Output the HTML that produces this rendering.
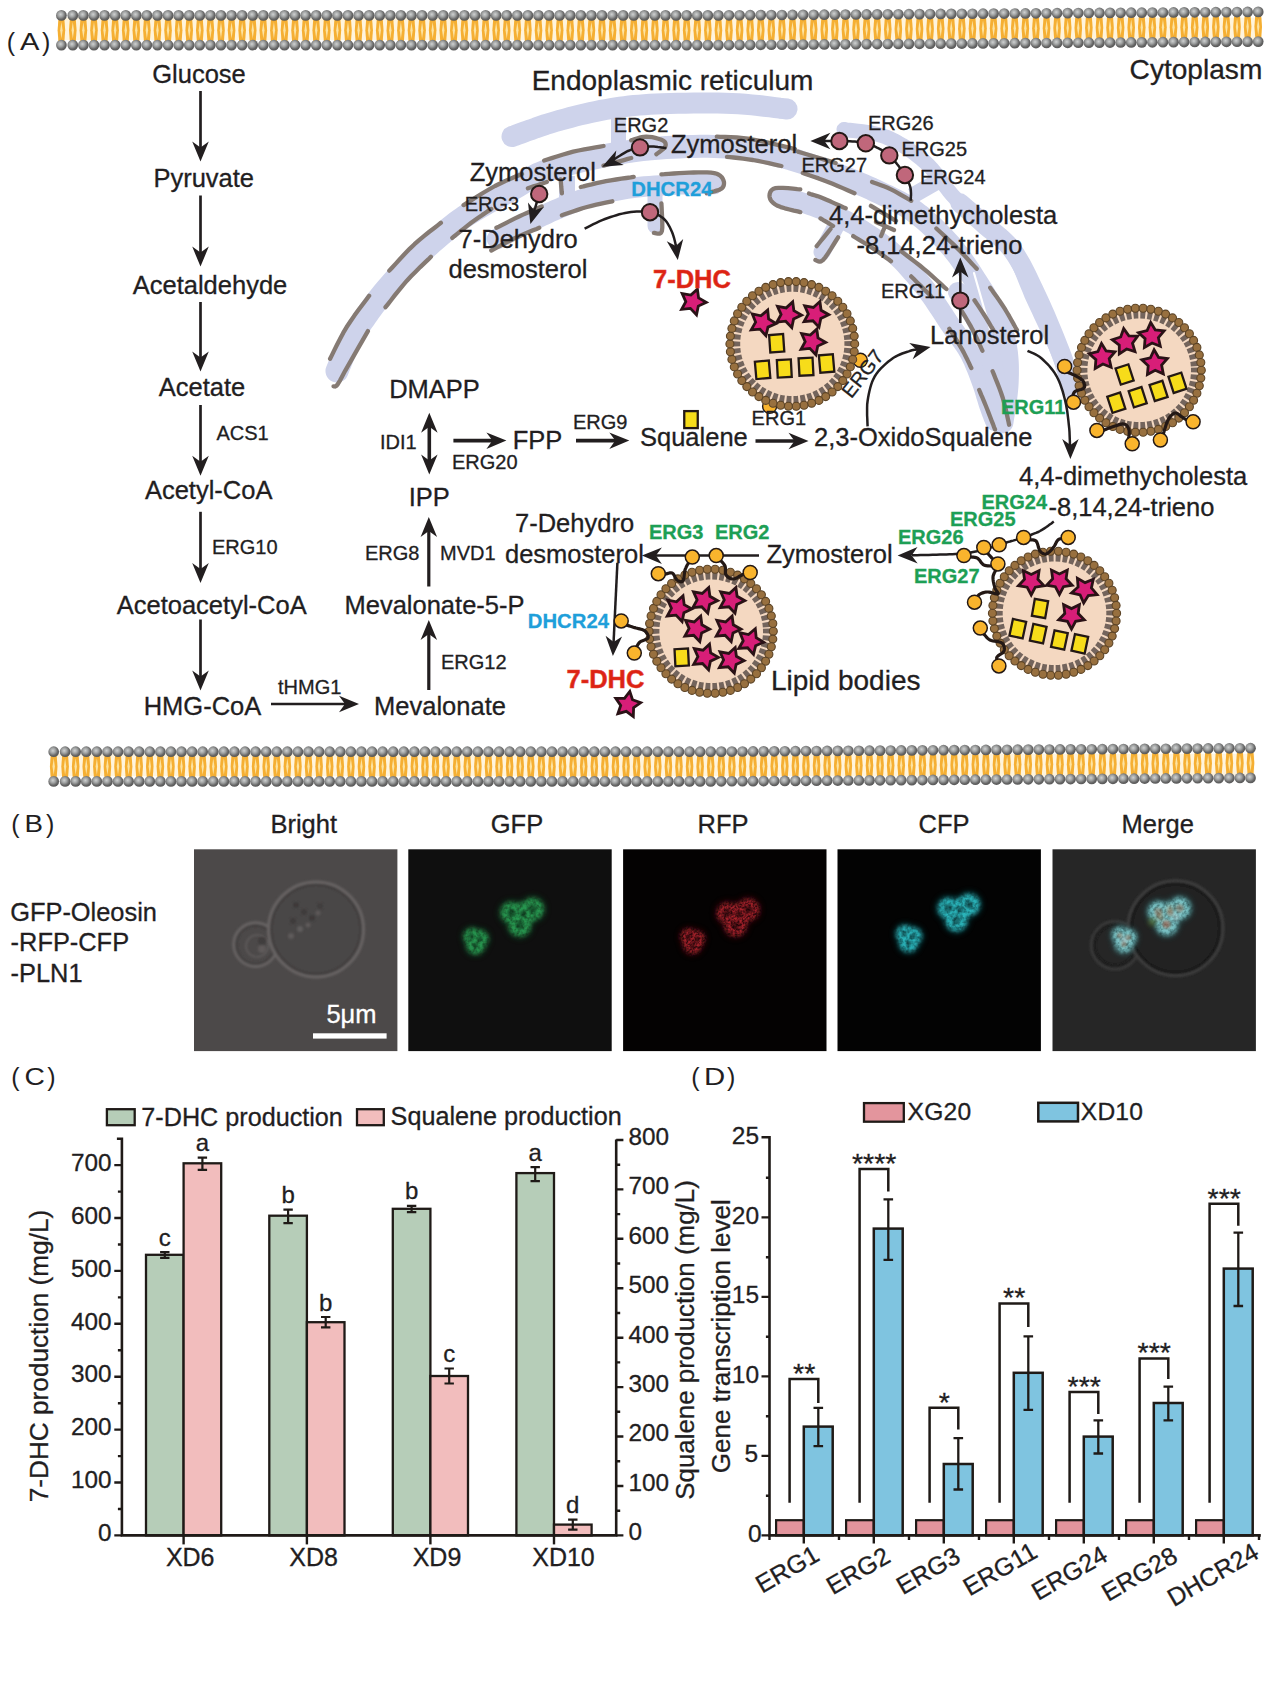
<!DOCTYPE html>
<html lang="en"><head><meta charset="utf-8"><title>Figure</title>
<style>
html,body{margin:0;padding:0;background:#fff;}
svg{display:block;}
text{font-family:"Liberation Sans",sans-serif;}
</style></head><body>
<svg width="1270" height="1686" viewBox="0 0 1270 1686">
<defs>
<radialGradient id="gb" cx="0.42" cy="0.4" r="0.62"><stop offset="0" stop-color="#cfd1d1"/><stop offset="0.4" stop-color="#a0a2a2"/><stop offset="0.75" stop-color="#676767"/><stop offset="1" stop-color="#555"/></radialGradient>
<filter id="bl1" x="-50%" y="-50%" width="200%" height="200%"><feGaussianBlur stdDeviation="1.2"/></filter>
<filter id="bl2" x="-50%" y="-50%" width="200%" height="200%"><feGaussianBlur stdDeviation="2.0"/></filter>
<filter id="bl3" x="-50%" y="-50%" width="200%" height="200%"><feGaussianBlur stdDeviation="3.2"/></filter>
<filter id="spk" x="-30%" y="-30%" width="160%" height="160%"><feGaussianBlur stdDeviation="2" result="b"/><feTurbulence type="fractalNoise" baseFrequency="0.45" numOctaves="2" seed="4" result="n"/><feColorMatrix in="n" type="matrix" values="0 0 0 0 1 0 0 0 0 1 0 0 0 0 1 2.4 0 0 0 -0.6" result="na"/><feComposite in="b" in2="na" operator="in"/></filter>
<filter id="spk2" x="-30%" y="-30%" width="160%" height="160%"><feGaussianBlur stdDeviation="2.2" result="b"/><feTurbulence type="fractalNoise" baseFrequency="0.3" numOctaves="2" seed="9" result="n"/><feColorMatrix in="n" type="matrix" values="0 0 0 0 1 0 0 0 0 1 0 0 0 0 1 1.5 0 0 0 0.05" result="na"/><feComposite in="b" in2="na" operator="in"/></filter>
</defs>
<rect width="1270" height="1686" fill="#fff"/>
<rect x="58" y="17.6" width="1204" height="22.4" fill="#fff4dc"/>
<rect x="50.3" y="753.8" width="1204" height="22.4" fill="#fff4dc"/>
<g id="mem"><path d="M58.40,19.55L64.40,19.55L65.20,30.25L64.40,40.95L58.40,40.95L57.60,30.25Z" fill="#f5af33"/><path d="M61.40,22.05L62.60,30.25L61.40,38.45L60.20,30.25Z" fill="#fde3a1"/><path d="M69.80,19.55L75.80,19.55L76.60,30.25L75.80,40.95L69.80,40.95L69.00,30.25Z" fill="#f5af33"/><path d="M72.80,22.05L74.00,30.25L72.80,38.45L71.60,30.25Z" fill="#fde3a1"/><path d="M80.38,19.55L86.38,19.55L87.18,30.25L86.38,40.95L80.38,40.95L79.58,30.25Z" fill="#f5af33"/><path d="M83.38,22.05L84.58,30.25L83.38,38.45L82.18,30.25Z" fill="#fde3a1"/><path d="M90.97,19.55L96.97,19.55L97.77,30.25L96.97,40.95L90.97,40.95L90.17,30.25Z" fill="#f5af33"/><path d="M93.97,22.05L95.17,30.25L93.97,38.45L92.77,30.25Z" fill="#fde3a1"/><path d="M101.55,19.55L107.55,19.55L108.35,30.25L107.55,40.95L101.55,40.95L100.75,30.25Z" fill="#f5af33"/><path d="M104.55,22.05L105.75,30.25L104.55,38.45L103.35,30.25Z" fill="#fde3a1"/><path d="M112.14,19.55L118.14,19.55L118.94,30.25L118.14,40.95L112.14,40.95L111.34,30.25Z" fill="#f5af33"/><path d="M115.14,22.05L116.34,30.25L115.14,38.45L113.94,30.25Z" fill="#fde3a1"/><path d="M122.72,19.55L128.72,19.55L129.52,30.25L128.72,40.95L122.72,40.95L121.92,30.25Z" fill="#f5af33"/><path d="M125.72,22.05L126.92,30.25L125.72,38.45L124.52,30.25Z" fill="#fde3a1"/><path d="M133.30,19.55L139.30,19.55L140.10,30.25L139.30,40.95L133.30,40.95L132.50,30.25Z" fill="#f5af33"/><path d="M136.30,22.05L137.50,30.25L136.30,38.45L135.10,30.25Z" fill="#fde3a1"/><path d="M143.89,19.55L149.89,19.55L150.69,30.25L149.89,40.95L143.89,40.95L143.09,30.25Z" fill="#f5af33"/><path d="M146.89,22.05L148.09,30.25L146.89,38.45L145.69,30.25Z" fill="#fde3a1"/><path d="M154.47,19.55L160.47,19.55L161.27,30.25L160.47,40.95L154.47,40.95L153.67,30.25Z" fill="#f5af33"/><path d="M157.47,22.05L158.67,30.25L157.47,38.45L156.27,30.25Z" fill="#fde3a1"/><path d="M165.06,19.55L171.06,19.55L171.86,30.25L171.06,40.95L165.06,40.95L164.26,30.25Z" fill="#f5af33"/><path d="M168.06,22.05L169.26,30.25L168.06,38.45L166.86,30.25Z" fill="#fde3a1"/><path d="M175.64,19.55L181.64,19.55L182.44,30.25L181.64,40.95L175.64,40.95L174.84,30.25Z" fill="#f5af33"/><path d="M178.64,22.05L179.84,30.25L178.64,38.45L177.44,30.25Z" fill="#fde3a1"/><path d="M186.22,19.55L192.22,19.55L193.02,30.25L192.22,40.95L186.22,40.95L185.42,30.25Z" fill="#f5af33"/><path d="M189.22,22.05L190.42,30.25L189.22,38.45L188.02,30.25Z" fill="#fde3a1"/><path d="M196.81,19.55L202.81,19.55L203.61,30.25L202.81,40.95L196.81,40.95L196.01,30.25Z" fill="#f5af33"/><path d="M199.81,22.05L201.01,30.25L199.81,38.45L198.61,30.25Z" fill="#fde3a1"/><path d="M207.39,19.55L213.39,19.55L214.19,30.25L213.39,40.95L207.39,40.95L206.59,30.25Z" fill="#f5af33"/><path d="M210.39,22.05L211.59,30.25L210.39,38.45L209.19,30.25Z" fill="#fde3a1"/><path d="M217.98,19.55L223.98,19.55L224.78,30.25L223.98,40.95L217.98,40.95L217.18,30.25Z" fill="#f5af33"/><path d="M220.98,22.05L222.18,30.25L220.98,38.45L219.78,30.25Z" fill="#fde3a1"/><path d="M228.56,19.55L234.56,19.55L235.36,30.25L234.56,40.95L228.56,40.95L227.76,30.25Z" fill="#f5af33"/><path d="M231.56,22.05L232.76,30.25L231.56,38.45L230.36,30.25Z" fill="#fde3a1"/><path d="M239.14,19.55L245.14,19.55L245.94,30.25L245.14,40.95L239.14,40.95L238.34,30.25Z" fill="#f5af33"/><path d="M242.14,22.05L243.34,30.25L242.14,38.45L240.94,30.25Z" fill="#fde3a1"/><path d="M249.73,19.55L255.73,19.55L256.53,30.25L255.73,40.95L249.73,40.95L248.93,30.25Z" fill="#f5af33"/><path d="M252.73,22.05L253.93,30.25L252.73,38.45L251.53,30.25Z" fill="#fde3a1"/><path d="M260.31,19.55L266.31,19.55L267.11,30.25L266.31,40.95L260.31,40.95L259.51,30.25Z" fill="#f5af33"/><path d="M263.31,22.05L264.51,30.25L263.31,38.45L262.11,30.25Z" fill="#fde3a1"/><path d="M270.90,19.55L276.90,19.55L277.70,30.25L276.90,40.95L270.90,40.95L270.10,30.25Z" fill="#f5af33"/><path d="M273.90,22.05L275.10,30.25L273.90,38.45L272.70,30.25Z" fill="#fde3a1"/><path d="M281.48,19.55L287.48,19.55L288.28,30.25L287.48,40.95L281.48,40.95L280.68,30.25Z" fill="#f5af33"/><path d="M284.48,22.05L285.68,30.25L284.48,38.45L283.28,30.25Z" fill="#fde3a1"/><path d="M292.06,19.55L298.06,19.55L298.86,30.25L298.06,40.95L292.06,40.95L291.26,30.25Z" fill="#f5af33"/><path d="M295.06,22.05L296.26,30.25L295.06,38.45L293.86,30.25Z" fill="#fde3a1"/><path d="M302.65,19.55L308.65,19.55L309.45,30.25L308.65,40.95L302.65,40.95L301.85,30.25Z" fill="#f5af33"/><path d="M305.65,22.05L306.85,30.25L305.65,38.45L304.45,30.25Z" fill="#fde3a1"/><path d="M313.23,19.55L319.23,19.55L320.03,30.25L319.23,40.95L313.23,40.95L312.43,30.25Z" fill="#f5af33"/><path d="M316.23,22.05L317.43,30.25L316.23,38.45L315.03,30.25Z" fill="#fde3a1"/><path d="M323.82,19.55L329.82,19.55L330.62,30.25L329.82,40.95L323.82,40.95L323.02,30.25Z" fill="#f5af33"/><path d="M326.82,22.05L328.02,30.25L326.82,38.45L325.62,30.25Z" fill="#fde3a1"/><path d="M334.40,19.55L340.40,19.55L341.20,30.25L340.40,40.95L334.40,40.95L333.60,30.25Z" fill="#f5af33"/><path d="M337.40,22.05L338.60,30.25L337.40,38.45L336.20,30.25Z" fill="#fde3a1"/><path d="M344.98,19.55L350.98,19.55L351.78,30.25L350.98,40.95L344.98,40.95L344.18,30.25Z" fill="#f5af33"/><path d="M347.98,22.05L349.18,30.25L347.98,38.45L346.78,30.25Z" fill="#fde3a1"/><path d="M355.57,19.55L361.57,19.55L362.37,30.25L361.57,40.95L355.57,40.95L354.77,30.25Z" fill="#f5af33"/><path d="M358.57,22.05L359.77,30.25L358.57,38.45L357.37,30.25Z" fill="#fde3a1"/><path d="M366.15,19.55L372.15,19.55L372.95,30.25L372.15,40.95L366.15,40.95L365.35,30.25Z" fill="#f5af33"/><path d="M369.15,22.05L370.35,30.25L369.15,38.45L367.95,30.25Z" fill="#fde3a1"/><path d="M376.74,19.55L382.74,19.55L383.54,30.25L382.74,40.95L376.74,40.95L375.94,30.25Z" fill="#f5af33"/><path d="M379.74,22.05L380.94,30.25L379.74,38.45L378.54,30.25Z" fill="#fde3a1"/><path d="M387.32,19.55L393.32,19.55L394.12,30.25L393.32,40.95L387.32,40.95L386.52,30.25Z" fill="#f5af33"/><path d="M390.32,22.05L391.52,30.25L390.32,38.45L389.12,30.25Z" fill="#fde3a1"/><path d="M397.90,19.55L403.90,19.55L404.70,30.25L403.90,40.95L397.90,40.95L397.10,30.25Z" fill="#f5af33"/><path d="M400.90,22.05L402.10,30.25L400.90,38.45L399.70,30.25Z" fill="#fde3a1"/><path d="M408.49,19.55L414.49,19.55L415.29,30.25L414.49,40.95L408.49,40.95L407.69,30.25Z" fill="#f5af33"/><path d="M411.49,22.05L412.69,30.25L411.49,38.45L410.29,30.25Z" fill="#fde3a1"/><path d="M419.07,19.55L425.07,19.55L425.87,30.25L425.07,40.95L419.07,40.95L418.27,30.25Z" fill="#f5af33"/><path d="M422.07,22.05L423.27,30.25L422.07,38.45L420.87,30.25Z" fill="#fde3a1"/><path d="M429.66,19.55L435.66,19.55L436.46,30.25L435.66,40.95L429.66,40.95L428.86,30.25Z" fill="#f5af33"/><path d="M432.66,22.05L433.86,30.25L432.66,38.45L431.46,30.25Z" fill="#fde3a1"/><path d="M440.24,19.55L446.24,19.55L447.04,30.25L446.24,40.95L440.24,40.95L439.44,30.25Z" fill="#f5af33"/><path d="M443.24,22.05L444.44,30.25L443.24,38.45L442.04,30.25Z" fill="#fde3a1"/><path d="M450.82,19.55L456.82,19.55L457.62,30.25L456.82,40.95L450.82,40.95L450.02,30.25Z" fill="#f5af33"/><path d="M453.82,22.05L455.02,30.25L453.82,38.45L452.62,30.25Z" fill="#fde3a1"/><path d="M461.41,19.55L467.41,19.55L468.21,30.25L467.41,40.95L461.41,40.95L460.61,30.25Z" fill="#f5af33"/><path d="M464.41,22.05L465.61,30.25L464.41,38.45L463.21,30.25Z" fill="#fde3a1"/><path d="M471.99,19.55L477.99,19.55L478.79,30.25L477.99,40.95L471.99,40.95L471.19,30.25Z" fill="#f5af33"/><path d="M474.99,22.05L476.19,30.25L474.99,38.45L473.79,30.25Z" fill="#fde3a1"/><path d="M482.58,19.55L488.58,19.55L489.38,30.25L488.58,40.95L482.58,40.95L481.78,30.25Z" fill="#f5af33"/><path d="M485.58,22.05L486.78,30.25L485.58,38.45L484.38,30.25Z" fill="#fde3a1"/><path d="M493.16,19.55L499.16,19.55L499.96,30.25L499.16,40.95L493.16,40.95L492.36,30.25Z" fill="#f5af33"/><path d="M496.16,22.05L497.36,30.25L496.16,38.45L494.96,30.25Z" fill="#fde3a1"/><path d="M503.74,19.55L509.74,19.55L510.54,30.25L509.74,40.95L503.74,40.95L502.94,30.25Z" fill="#f5af33"/><path d="M506.74,22.05L507.94,30.25L506.74,38.45L505.54,30.25Z" fill="#fde3a1"/><path d="M514.33,19.55L520.33,19.55L521.13,30.25L520.33,40.95L514.33,40.95L513.53,30.25Z" fill="#f5af33"/><path d="M517.33,22.05L518.53,30.25L517.33,38.45L516.13,30.25Z" fill="#fde3a1"/><path d="M524.91,19.55L530.91,19.55L531.71,30.25L530.91,40.95L524.91,40.95L524.11,30.25Z" fill="#f5af33"/><path d="M527.91,22.05L529.11,30.25L527.91,38.45L526.71,30.25Z" fill="#fde3a1"/><path d="M535.50,19.55L541.50,19.55L542.30,30.25L541.50,40.95L535.50,40.95L534.70,30.25Z" fill="#f5af33"/><path d="M538.50,22.05L539.70,30.25L538.50,38.45L537.30,30.25Z" fill="#fde3a1"/><path d="M546.08,19.55L552.08,19.55L552.88,30.25L552.08,40.95L546.08,40.95L545.28,30.25Z" fill="#f5af33"/><path d="M549.08,22.05L550.28,30.25L549.08,38.45L547.88,30.25Z" fill="#fde3a1"/><path d="M556.66,19.55L562.66,19.55L563.46,30.25L562.66,40.95L556.66,40.95L555.86,30.25Z" fill="#f5af33"/><path d="M559.66,22.05L560.86,30.25L559.66,38.45L558.46,30.25Z" fill="#fde3a1"/><path d="M567.25,19.55L573.25,19.55L574.05,30.25L573.25,40.95L567.25,40.95L566.45,30.25Z" fill="#f5af33"/><path d="M570.25,22.05L571.45,30.25L570.25,38.45L569.05,30.25Z" fill="#fde3a1"/><path d="M577.83,19.55L583.83,19.55L584.63,30.25L583.83,40.95L577.83,40.95L577.03,30.25Z" fill="#f5af33"/><path d="M580.83,22.05L582.03,30.25L580.83,38.45L579.63,30.25Z" fill="#fde3a1"/><path d="M588.42,19.55L594.42,19.55L595.22,30.25L594.42,40.95L588.42,40.95L587.62,30.25Z" fill="#f5af33"/><path d="M591.42,22.05L592.62,30.25L591.42,38.45L590.22,30.25Z" fill="#fde3a1"/><path d="M599.00,19.55L605.00,19.55L605.80,30.25L605.00,40.95L599.00,40.95L598.20,30.25Z" fill="#f5af33"/><path d="M602.00,22.05L603.20,30.25L602.00,38.45L600.80,30.25Z" fill="#fde3a1"/><path d="M609.58,19.55L615.58,19.55L616.38,30.25L615.58,40.95L609.58,40.95L608.78,30.25Z" fill="#f5af33"/><path d="M612.58,22.05L613.78,30.25L612.58,38.45L611.38,30.25Z" fill="#fde3a1"/><path d="M620.17,19.55L626.17,19.55L626.97,30.25L626.17,40.95L620.17,40.95L619.37,30.25Z" fill="#f5af33"/><path d="M623.17,22.05L624.37,30.25L623.17,38.45L621.97,30.25Z" fill="#fde3a1"/><path d="M630.75,19.55L636.75,19.55L637.55,30.25L636.75,40.95L630.75,40.95L629.95,30.25Z" fill="#f5af33"/><path d="M633.75,22.05L634.95,30.25L633.75,38.45L632.55,30.25Z" fill="#fde3a1"/><path d="M641.34,19.55L647.34,19.55L648.14,30.25L647.34,40.95L641.34,40.95L640.54,30.25Z" fill="#f5af33"/><path d="M644.34,22.05L645.54,30.25L644.34,38.45L643.14,30.25Z" fill="#fde3a1"/><path d="M651.92,19.55L657.92,19.55L658.72,30.25L657.92,40.95L651.92,40.95L651.12,30.25Z" fill="#f5af33"/><path d="M654.92,22.05L656.12,30.25L654.92,38.45L653.72,30.25Z" fill="#fde3a1"/><path d="M662.50,19.55L668.50,19.55L669.30,30.25L668.50,40.95L662.50,40.95L661.70,30.25Z" fill="#f5af33"/><path d="M665.50,22.05L666.70,30.25L665.50,38.45L664.30,30.25Z" fill="#fde3a1"/><path d="M673.09,19.55L679.09,19.55L679.89,30.25L679.09,40.95L673.09,40.95L672.29,30.25Z" fill="#f5af33"/><path d="M676.09,22.05L677.29,30.25L676.09,38.45L674.89,30.25Z" fill="#fde3a1"/><path d="M683.67,19.55L689.67,19.55L690.47,30.25L689.67,40.95L683.67,40.95L682.87,30.25Z" fill="#f5af33"/><path d="M686.67,22.05L687.87,30.25L686.67,38.45L685.47,30.25Z" fill="#fde3a1"/><path d="M694.26,19.55L700.26,19.55L701.06,30.25L700.26,40.95L694.26,40.95L693.46,30.25Z" fill="#f5af33"/><path d="M697.26,22.05L698.46,30.25L697.26,38.45L696.06,30.25Z" fill="#fde3a1"/><path d="M704.84,19.55L710.84,19.55L711.64,30.25L710.84,40.95L704.84,40.95L704.04,30.25Z" fill="#f5af33"/><path d="M707.84,22.05L709.04,30.25L707.84,38.45L706.64,30.25Z" fill="#fde3a1"/><path d="M715.42,19.55L721.42,19.55L722.22,30.25L721.42,40.95L715.42,40.95L714.62,30.25Z" fill="#f5af33"/><path d="M718.42,22.05L719.62,30.25L718.42,38.45L717.22,30.25Z" fill="#fde3a1"/><path d="M726.01,19.49L732.01,19.49L732.81,30.19L732.01,40.89L726.01,40.89L725.21,30.19Z" fill="#f5af33"/><path d="M729.01,21.99L730.21,30.19L729.01,38.39L727.81,30.19Z" fill="#fde3a1"/><path d="M736.59,19.42L742.59,19.42L743.39,30.12L742.59,40.82L736.59,40.82L735.79,30.12Z" fill="#f5af33"/><path d="M739.59,21.92L740.79,30.12L739.59,38.32L738.39,30.12Z" fill="#fde3a1"/><path d="M747.18,19.35L753.18,19.35L753.98,30.05L753.18,40.75L747.18,40.75L746.38,30.05Z" fill="#f5af33"/><path d="M750.18,21.85L751.38,30.05L750.18,38.25L748.98,30.05Z" fill="#fde3a1"/><path d="M757.76,19.28L763.76,19.28L764.56,29.98L763.76,40.68L757.76,40.68L756.96,29.98Z" fill="#f5af33"/><path d="M760.76,21.78L761.96,29.98L760.76,38.18L759.56,29.98Z" fill="#fde3a1"/><path d="M768.34,19.22L774.34,19.22L775.14,29.92L774.34,40.62L768.34,40.62L767.54,29.92Z" fill="#f5af33"/><path d="M771.34,21.72L772.54,29.92L771.34,38.12L770.14,29.92Z" fill="#fde3a1"/><path d="M778.93,19.15L784.93,19.15L785.73,29.85L784.93,40.55L778.93,40.55L778.13,29.85Z" fill="#f5af33"/><path d="M781.93,21.65L783.13,29.85L781.93,38.05L780.73,29.85Z" fill="#fde3a1"/><path d="M789.51,19.08L795.51,19.08L796.31,29.78L795.51,40.48L789.51,40.48L788.71,29.78Z" fill="#f5af33"/><path d="M792.51,21.58L793.71,29.78L792.51,37.98L791.31,29.78Z" fill="#fde3a1"/><path d="M800.10,19.01L806.10,19.01L806.90,29.71L806.10,40.41L800.10,40.41L799.30,29.71Z" fill="#f5af33"/><path d="M803.10,21.51L804.30,29.71L803.10,37.91L801.90,29.71Z" fill="#fde3a1"/><path d="M810.68,18.94L816.68,18.94L817.48,29.64L816.68,40.34L810.68,40.34L809.88,29.64Z" fill="#f5af33"/><path d="M813.68,21.44L814.88,29.64L813.68,37.84L812.48,29.64Z" fill="#fde3a1"/><path d="M821.26,18.87L827.26,18.87L828.06,29.57L827.26,40.27L821.26,40.27L820.46,29.57Z" fill="#f5af33"/><path d="M824.26,21.37L825.46,29.57L824.26,37.77L823.06,29.57Z" fill="#fde3a1"/><path d="M831.85,18.80L837.85,18.80L838.65,29.50L837.85,40.20L831.85,40.20L831.05,29.50Z" fill="#f5af33"/><path d="M834.85,21.30L836.05,29.50L834.85,37.70L833.65,29.50Z" fill="#fde3a1"/><path d="M842.43,18.73L848.43,18.73L849.23,29.43L848.43,40.13L842.43,40.13L841.63,29.43Z" fill="#f5af33"/><path d="M845.43,21.23L846.63,29.43L845.43,37.63L844.23,29.43Z" fill="#fde3a1"/><path d="M853.02,18.67L859.02,18.67L859.82,29.37L859.02,40.07L853.02,40.07L852.22,29.37Z" fill="#f5af33"/><path d="M856.02,21.17L857.22,29.37L856.02,37.57L854.82,29.37Z" fill="#fde3a1"/><path d="M863.60,18.60L869.60,18.60L870.40,29.30L869.60,40.00L863.60,40.00L862.80,29.30Z" fill="#f5af33"/><path d="M866.60,21.10L867.80,29.30L866.60,37.50L865.40,29.30Z" fill="#fde3a1"/><path d="M874.18,18.53L880.18,18.53L880.98,29.23L880.18,39.93L874.18,39.93L873.38,29.23Z" fill="#f5af33"/><path d="M877.18,21.03L878.38,29.23L877.18,37.43L875.98,29.23Z" fill="#fde3a1"/><path d="M884.77,18.46L890.77,18.46L891.57,29.16L890.77,39.86L884.77,39.86L883.97,29.16Z" fill="#f5af33"/><path d="M887.77,20.96L888.97,29.16L887.77,37.36L886.57,29.16Z" fill="#fde3a1"/><path d="M895.35,18.39L901.35,18.39L902.15,29.09L901.35,39.79L895.35,39.79L894.55,29.09Z" fill="#f5af33"/><path d="M898.35,20.89L899.55,29.09L898.35,37.29L897.15,29.09Z" fill="#fde3a1"/><path d="M905.94,18.32L911.94,18.32L912.74,29.02L911.94,39.72L905.94,39.72L905.14,29.02Z" fill="#f5af33"/><path d="M908.94,20.82L910.14,29.02L908.94,37.22L907.74,29.02Z" fill="#fde3a1"/><path d="M916.52,18.25L922.52,18.25L923.32,28.95L922.52,39.65L916.52,39.65L915.72,28.95Z" fill="#f5af33"/><path d="M919.52,20.75L920.72,28.95L919.52,37.15L918.32,28.95Z" fill="#fde3a1"/><path d="M927.10,18.18L933.10,18.18L933.90,28.88L933.10,39.58L927.10,39.58L926.30,28.88Z" fill="#f5af33"/><path d="M930.10,20.68L931.30,28.88L930.10,37.08L928.90,28.88Z" fill="#fde3a1"/><path d="M937.69,18.11L943.69,18.11L944.49,28.81L943.69,39.51L937.69,39.51L936.89,28.81Z" fill="#f5af33"/><path d="M940.69,20.61L941.89,28.81L940.69,37.01L939.49,28.81Z" fill="#fde3a1"/><path d="M948.27,18.05L954.27,18.05L955.07,28.75L954.27,39.45L948.27,39.45L947.47,28.75Z" fill="#f5af33"/><path d="M951.27,20.55L952.47,28.75L951.27,36.95L950.07,28.75Z" fill="#fde3a1"/><path d="M958.86,17.98L964.86,17.98L965.66,28.68L964.86,39.38L958.86,39.38L958.06,28.68Z" fill="#f5af33"/><path d="M961.86,20.48L963.06,28.68L961.86,36.88L960.66,28.68Z" fill="#fde3a1"/><path d="M969.44,17.91L975.44,17.91L976.24,28.61L975.44,39.31L969.44,39.31L968.64,28.61Z" fill="#f5af33"/><path d="M972.44,20.41L973.64,28.61L972.44,36.81L971.24,28.61Z" fill="#fde3a1"/><path d="M980.02,17.84L986.02,17.84L986.82,28.54L986.02,39.24L980.02,39.24L979.22,28.54Z" fill="#f5af33"/><path d="M983.02,20.34L984.22,28.54L983.02,36.74L981.82,28.54Z" fill="#fde3a1"/><path d="M990.61,17.77L996.61,17.77L997.41,28.47L996.61,39.17L990.61,39.17L989.81,28.47Z" fill="#f5af33"/><path d="M993.61,20.27L994.81,28.47L993.61,36.67L992.41,28.47Z" fill="#fde3a1"/><path d="M1001.19,17.70L1007.19,17.70L1007.99,28.40L1007.19,39.10L1001.19,39.10L1000.39,28.40Z" fill="#f5af33"/><path d="M1004.19,20.20L1005.39,28.40L1004.19,36.60L1002.99,28.40Z" fill="#fde3a1"/><path d="M1011.78,17.63L1017.78,17.63L1018.58,28.33L1017.78,39.03L1011.78,39.03L1010.98,28.33Z" fill="#f5af33"/><path d="M1014.78,20.13L1015.98,28.33L1014.78,36.53L1013.58,28.33Z" fill="#fde3a1"/><path d="M1022.36,17.56L1028.36,17.56L1029.16,28.26L1028.36,38.96L1022.36,38.96L1021.56,28.26Z" fill="#f5af33"/><path d="M1025.36,20.06L1026.56,28.26L1025.36,36.46L1024.16,28.26Z" fill="#fde3a1"/><path d="M1032.94,17.49L1038.94,17.49L1039.74,28.19L1038.94,38.89L1032.94,38.89L1032.14,28.19Z" fill="#f5af33"/><path d="M1035.94,19.99L1037.14,28.19L1035.94,36.39L1034.74,28.19Z" fill="#fde3a1"/><path d="M1043.53,17.43L1049.53,17.43L1050.33,28.13L1049.53,38.83L1043.53,38.83L1042.73,28.13Z" fill="#f5af33"/><path d="M1046.53,19.93L1047.73,28.13L1046.53,36.33L1045.33,28.13Z" fill="#fde3a1"/><path d="M1054.11,17.36L1060.11,17.36L1060.91,28.06L1060.11,38.76L1054.11,38.76L1053.31,28.06Z" fill="#f5af33"/><path d="M1057.11,19.86L1058.31,28.06L1057.11,36.26L1055.91,28.06Z" fill="#fde3a1"/><path d="M1064.70,17.29L1070.70,17.29L1071.50,27.99L1070.70,38.69L1064.70,38.69L1063.90,27.99Z" fill="#f5af33"/><path d="M1067.70,19.79L1068.90,27.99L1067.70,36.19L1066.50,27.99Z" fill="#fde3a1"/><path d="M1075.28,17.22L1081.28,17.22L1082.08,27.92L1081.28,38.62L1075.28,38.62L1074.48,27.92Z" fill="#f5af33"/><path d="M1078.28,19.72L1079.48,27.92L1078.28,36.12L1077.08,27.92Z" fill="#fde3a1"/><path d="M1085.86,17.15L1091.86,17.15L1092.66,27.85L1091.86,38.55L1085.86,38.55L1085.06,27.85Z" fill="#f5af33"/><path d="M1088.86,19.65L1090.06,27.85L1088.86,36.05L1087.66,27.85Z" fill="#fde3a1"/><path d="M1096.45,17.08L1102.45,17.08L1103.25,27.78L1102.45,38.48L1096.45,38.48L1095.65,27.78Z" fill="#f5af33"/><path d="M1099.45,19.58L1100.65,27.78L1099.45,35.98L1098.25,27.78Z" fill="#fde3a1"/><path d="M1107.03,17.01L1113.03,17.01L1113.83,27.71L1113.03,38.41L1107.03,38.41L1106.23,27.71Z" fill="#f5af33"/><path d="M1110.03,19.51L1111.23,27.71L1110.03,35.91L1108.83,27.71Z" fill="#fde3a1"/><path d="M1117.62,16.94L1123.62,16.94L1124.42,27.64L1123.62,38.34L1117.62,38.34L1116.82,27.64Z" fill="#f5af33"/><path d="M1120.62,19.44L1121.82,27.64L1120.62,35.84L1119.42,27.64Z" fill="#fde3a1"/><path d="M1128.20,16.87L1134.20,16.87L1135.00,27.57L1134.20,38.27L1128.20,38.27L1127.40,27.57Z" fill="#f5af33"/><path d="M1131.20,19.37L1132.40,27.57L1131.20,35.77L1130.00,27.57Z" fill="#fde3a1"/><path d="M1138.78,16.81L1144.78,16.81L1145.58,27.51L1144.78,38.21L1138.78,38.21L1137.98,27.51Z" fill="#f5af33"/><path d="M1141.78,19.31L1142.98,27.51L1141.78,35.71L1140.58,27.51Z" fill="#fde3a1"/><path d="M1149.37,16.74L1155.37,16.74L1156.17,27.44L1155.37,38.14L1149.37,38.14L1148.57,27.44Z" fill="#f5af33"/><path d="M1152.37,19.24L1153.57,27.44L1152.37,35.64L1151.17,27.44Z" fill="#fde3a1"/><path d="M1159.95,16.67L1165.95,16.67L1166.75,27.37L1165.95,38.07L1159.95,38.07L1159.15,27.37Z" fill="#f5af33"/><path d="M1162.95,19.17L1164.15,27.37L1162.95,35.57L1161.75,27.37Z" fill="#fde3a1"/><path d="M1170.54,16.60L1176.54,16.60L1177.34,27.30L1176.54,38.00L1170.54,38.00L1169.74,27.30Z" fill="#f5af33"/><path d="M1173.54,19.10L1174.74,27.30L1173.54,35.50L1172.34,27.30Z" fill="#fde3a1"/><path d="M1181.12,16.53L1187.12,16.53L1187.92,27.23L1187.12,37.93L1181.12,37.93L1180.32,27.23Z" fill="#f5af33"/><path d="M1184.12,19.03L1185.32,27.23L1184.12,35.43L1182.92,27.23Z" fill="#fde3a1"/><path d="M1191.70,16.46L1197.70,16.46L1198.50,27.16L1197.70,37.86L1191.70,37.86L1190.90,27.16Z" fill="#f5af33"/><path d="M1194.70,18.96L1195.90,27.16L1194.70,35.36L1193.50,27.16Z" fill="#fde3a1"/><path d="M1202.29,16.39L1208.29,16.39L1209.09,27.09L1208.29,37.79L1202.29,37.79L1201.49,27.09Z" fill="#f5af33"/><path d="M1205.29,18.89L1206.49,27.09L1205.29,35.29L1204.09,27.09Z" fill="#fde3a1"/><path d="M1212.87,16.32L1218.87,16.32L1219.67,27.02L1218.87,37.72L1212.87,37.72L1212.07,27.02Z" fill="#f5af33"/><path d="M1215.87,18.82L1217.07,27.02L1215.87,35.22L1214.67,27.02Z" fill="#fde3a1"/><path d="M1223.46,16.26L1229.46,16.26L1230.26,26.96L1229.46,37.66L1223.46,37.66L1222.66,26.96Z" fill="#f5af33"/><path d="M1226.46,18.76L1227.66,26.96L1226.46,35.16L1225.26,26.96Z" fill="#fde3a1"/><path d="M1234.04,16.19L1240.04,16.19L1240.84,26.89L1240.04,37.59L1234.04,37.59L1233.24,26.89Z" fill="#f5af33"/><path d="M1237.04,18.69L1238.24,26.89L1237.04,35.09L1235.84,26.89Z" fill="#fde3a1"/><path d="M1244.62,16.12L1250.62,16.12L1251.42,26.82L1250.62,37.52L1244.62,37.52L1243.82,26.82Z" fill="#f5af33"/><path d="M1247.62,18.62L1248.82,26.82L1247.62,35.02L1246.42,26.82Z" fill="#fde3a1"/><path d="M1255.21,16.05L1261.21,16.05L1262.01,26.75L1261.21,37.45L1255.21,37.45L1254.41,26.75Z" fill="#f5af33"/><path d="M1258.21,18.55L1259.41,26.75L1258.21,34.95L1257.01,26.75Z" fill="#fde3a1"/><circle cx="61.40" cy="15.40" r="5.35" fill="url(#gb)"/><circle cx="61.40" cy="45.10" r="5.35" fill="url(#gb)"/><circle cx="72.80" cy="15.40" r="5.35" fill="url(#gb)"/><circle cx="72.80" cy="45.10" r="5.35" fill="url(#gb)"/><circle cx="83.38" cy="15.40" r="5.35" fill="url(#gb)"/><circle cx="83.38" cy="45.10" r="5.35" fill="url(#gb)"/><circle cx="93.97" cy="15.40" r="5.35" fill="url(#gb)"/><circle cx="93.97" cy="45.10" r="5.35" fill="url(#gb)"/><circle cx="104.55" cy="15.40" r="5.35" fill="url(#gb)"/><circle cx="104.55" cy="45.10" r="5.35" fill="url(#gb)"/><circle cx="115.14" cy="15.40" r="5.35" fill="url(#gb)"/><circle cx="115.14" cy="45.10" r="5.35" fill="url(#gb)"/><circle cx="125.72" cy="15.40" r="5.35" fill="url(#gb)"/><circle cx="125.72" cy="45.10" r="5.35" fill="url(#gb)"/><circle cx="136.30" cy="15.40" r="5.35" fill="url(#gb)"/><circle cx="136.30" cy="45.10" r="5.35" fill="url(#gb)"/><circle cx="146.89" cy="15.40" r="5.35" fill="url(#gb)"/><circle cx="146.89" cy="45.10" r="5.35" fill="url(#gb)"/><circle cx="157.47" cy="15.40" r="5.35" fill="url(#gb)"/><circle cx="157.47" cy="45.10" r="5.35" fill="url(#gb)"/><circle cx="168.06" cy="15.40" r="5.35" fill="url(#gb)"/><circle cx="168.06" cy="45.10" r="5.35" fill="url(#gb)"/><circle cx="178.64" cy="15.40" r="5.35" fill="url(#gb)"/><circle cx="178.64" cy="45.10" r="5.35" fill="url(#gb)"/><circle cx="189.22" cy="15.40" r="5.35" fill="url(#gb)"/><circle cx="189.22" cy="45.10" r="5.35" fill="url(#gb)"/><circle cx="199.81" cy="15.40" r="5.35" fill="url(#gb)"/><circle cx="199.81" cy="45.10" r="5.35" fill="url(#gb)"/><circle cx="210.39" cy="15.40" r="5.35" fill="url(#gb)"/><circle cx="210.39" cy="45.10" r="5.35" fill="url(#gb)"/><circle cx="220.98" cy="15.40" r="5.35" fill="url(#gb)"/><circle cx="220.98" cy="45.10" r="5.35" fill="url(#gb)"/><circle cx="231.56" cy="15.40" r="5.35" fill="url(#gb)"/><circle cx="231.56" cy="45.10" r="5.35" fill="url(#gb)"/><circle cx="242.14" cy="15.40" r="5.35" fill="url(#gb)"/><circle cx="242.14" cy="45.10" r="5.35" fill="url(#gb)"/><circle cx="252.73" cy="15.40" r="5.35" fill="url(#gb)"/><circle cx="252.73" cy="45.10" r="5.35" fill="url(#gb)"/><circle cx="263.31" cy="15.40" r="5.35" fill="url(#gb)"/><circle cx="263.31" cy="45.10" r="5.35" fill="url(#gb)"/><circle cx="273.90" cy="15.40" r="5.35" fill="url(#gb)"/><circle cx="273.90" cy="45.10" r="5.35" fill="url(#gb)"/><circle cx="284.48" cy="15.40" r="5.35" fill="url(#gb)"/><circle cx="284.48" cy="45.10" r="5.35" fill="url(#gb)"/><circle cx="295.06" cy="15.40" r="5.35" fill="url(#gb)"/><circle cx="295.06" cy="45.10" r="5.35" fill="url(#gb)"/><circle cx="305.65" cy="15.40" r="5.35" fill="url(#gb)"/><circle cx="305.65" cy="45.10" r="5.35" fill="url(#gb)"/><circle cx="316.23" cy="15.40" r="5.35" fill="url(#gb)"/><circle cx="316.23" cy="45.10" r="5.35" fill="url(#gb)"/><circle cx="326.82" cy="15.40" r="5.35" fill="url(#gb)"/><circle cx="326.82" cy="45.10" r="5.35" fill="url(#gb)"/><circle cx="337.40" cy="15.40" r="5.35" fill="url(#gb)"/><circle cx="337.40" cy="45.10" r="5.35" fill="url(#gb)"/><circle cx="347.98" cy="15.40" r="5.35" fill="url(#gb)"/><circle cx="347.98" cy="45.10" r="5.35" fill="url(#gb)"/><circle cx="358.57" cy="15.40" r="5.35" fill="url(#gb)"/><circle cx="358.57" cy="45.10" r="5.35" fill="url(#gb)"/><circle cx="369.15" cy="15.40" r="5.35" fill="url(#gb)"/><circle cx="369.15" cy="45.10" r="5.35" fill="url(#gb)"/><circle cx="379.74" cy="15.40" r="5.35" fill="url(#gb)"/><circle cx="379.74" cy="45.10" r="5.35" fill="url(#gb)"/><circle cx="390.32" cy="15.40" r="5.35" fill="url(#gb)"/><circle cx="390.32" cy="45.10" r="5.35" fill="url(#gb)"/><circle cx="400.90" cy="15.40" r="5.35" fill="url(#gb)"/><circle cx="400.90" cy="45.10" r="5.35" fill="url(#gb)"/><circle cx="411.49" cy="15.40" r="5.35" fill="url(#gb)"/><circle cx="411.49" cy="45.10" r="5.35" fill="url(#gb)"/><circle cx="422.07" cy="15.40" r="5.35" fill="url(#gb)"/><circle cx="422.07" cy="45.10" r="5.35" fill="url(#gb)"/><circle cx="432.66" cy="15.40" r="5.35" fill="url(#gb)"/><circle cx="432.66" cy="45.10" r="5.35" fill="url(#gb)"/><circle cx="443.24" cy="15.40" r="5.35" fill="url(#gb)"/><circle cx="443.24" cy="45.10" r="5.35" fill="url(#gb)"/><circle cx="453.82" cy="15.40" r="5.35" fill="url(#gb)"/><circle cx="453.82" cy="45.10" r="5.35" fill="url(#gb)"/><circle cx="464.41" cy="15.40" r="5.35" fill="url(#gb)"/><circle cx="464.41" cy="45.10" r="5.35" fill="url(#gb)"/><circle cx="474.99" cy="15.40" r="5.35" fill="url(#gb)"/><circle cx="474.99" cy="45.10" r="5.35" fill="url(#gb)"/><circle cx="485.58" cy="15.40" r="5.35" fill="url(#gb)"/><circle cx="485.58" cy="45.10" r="5.35" fill="url(#gb)"/><circle cx="496.16" cy="15.40" r="5.35" fill="url(#gb)"/><circle cx="496.16" cy="45.10" r="5.35" fill="url(#gb)"/><circle cx="506.74" cy="15.40" r="5.35" fill="url(#gb)"/><circle cx="506.74" cy="45.10" r="5.35" fill="url(#gb)"/><circle cx="517.33" cy="15.40" r="5.35" fill="url(#gb)"/><circle cx="517.33" cy="45.10" r="5.35" fill="url(#gb)"/><circle cx="527.91" cy="15.40" r="5.35" fill="url(#gb)"/><circle cx="527.91" cy="45.10" r="5.35" fill="url(#gb)"/><circle cx="538.50" cy="15.40" r="5.35" fill="url(#gb)"/><circle cx="538.50" cy="45.10" r="5.35" fill="url(#gb)"/><circle cx="549.08" cy="15.40" r="5.35" fill="url(#gb)"/><circle cx="549.08" cy="45.10" r="5.35" fill="url(#gb)"/><circle cx="559.66" cy="15.40" r="5.35" fill="url(#gb)"/><circle cx="559.66" cy="45.10" r="5.35" fill="url(#gb)"/><circle cx="570.25" cy="15.40" r="5.35" fill="url(#gb)"/><circle cx="570.25" cy="45.10" r="5.35" fill="url(#gb)"/><circle cx="580.83" cy="15.40" r="5.35" fill="url(#gb)"/><circle cx="580.83" cy="45.10" r="5.35" fill="url(#gb)"/><circle cx="591.42" cy="15.40" r="5.35" fill="url(#gb)"/><circle cx="591.42" cy="45.10" r="5.35" fill="url(#gb)"/><circle cx="602.00" cy="15.40" r="5.35" fill="url(#gb)"/><circle cx="602.00" cy="45.10" r="5.35" fill="url(#gb)"/><circle cx="612.58" cy="15.40" r="5.35" fill="url(#gb)"/><circle cx="612.58" cy="45.10" r="5.35" fill="url(#gb)"/><circle cx="623.17" cy="15.40" r="5.35" fill="url(#gb)"/><circle cx="623.17" cy="45.10" r="5.35" fill="url(#gb)"/><circle cx="633.75" cy="15.40" r="5.35" fill="url(#gb)"/><circle cx="633.75" cy="45.10" r="5.35" fill="url(#gb)"/><circle cx="644.34" cy="15.40" r="5.35" fill="url(#gb)"/><circle cx="644.34" cy="45.10" r="5.35" fill="url(#gb)"/><circle cx="654.92" cy="15.40" r="5.35" fill="url(#gb)"/><circle cx="654.92" cy="45.10" r="5.35" fill="url(#gb)"/><circle cx="665.50" cy="15.40" r="5.35" fill="url(#gb)"/><circle cx="665.50" cy="45.10" r="5.35" fill="url(#gb)"/><circle cx="676.09" cy="15.40" r="5.35" fill="url(#gb)"/><circle cx="676.09" cy="45.10" r="5.35" fill="url(#gb)"/><circle cx="686.67" cy="15.40" r="5.35" fill="url(#gb)"/><circle cx="686.67" cy="45.10" r="5.35" fill="url(#gb)"/><circle cx="697.26" cy="15.40" r="5.35" fill="url(#gb)"/><circle cx="697.26" cy="45.10" r="5.35" fill="url(#gb)"/><circle cx="707.84" cy="15.40" r="5.35" fill="url(#gb)"/><circle cx="707.84" cy="45.10" r="5.35" fill="url(#gb)"/><circle cx="718.42" cy="15.40" r="5.35" fill="url(#gb)"/><circle cx="718.42" cy="45.10" r="5.35" fill="url(#gb)"/><circle cx="729.01" cy="15.34" r="5.35" fill="url(#gb)"/><circle cx="729.01" cy="45.04" r="5.35" fill="url(#gb)"/><circle cx="739.59" cy="15.27" r="5.35" fill="url(#gb)"/><circle cx="739.59" cy="44.97" r="5.35" fill="url(#gb)"/><circle cx="750.18" cy="15.20" r="5.35" fill="url(#gb)"/><circle cx="750.18" cy="44.90" r="5.35" fill="url(#gb)"/><circle cx="760.76" cy="15.13" r="5.35" fill="url(#gb)"/><circle cx="760.76" cy="44.83" r="5.35" fill="url(#gb)"/><circle cx="771.34" cy="15.07" r="5.35" fill="url(#gb)"/><circle cx="771.34" cy="44.77" r="5.35" fill="url(#gb)"/><circle cx="781.93" cy="15.00" r="5.35" fill="url(#gb)"/><circle cx="781.93" cy="44.70" r="5.35" fill="url(#gb)"/><circle cx="792.51" cy="14.93" r="5.35" fill="url(#gb)"/><circle cx="792.51" cy="44.63" r="5.35" fill="url(#gb)"/><circle cx="803.10" cy="14.86" r="5.35" fill="url(#gb)"/><circle cx="803.10" cy="44.56" r="5.35" fill="url(#gb)"/><circle cx="813.68" cy="14.79" r="5.35" fill="url(#gb)"/><circle cx="813.68" cy="44.49" r="5.35" fill="url(#gb)"/><circle cx="824.26" cy="14.72" r="5.35" fill="url(#gb)"/><circle cx="824.26" cy="44.42" r="5.35" fill="url(#gb)"/><circle cx="834.85" cy="14.65" r="5.35" fill="url(#gb)"/><circle cx="834.85" cy="44.35" r="5.35" fill="url(#gb)"/><circle cx="845.43" cy="14.58" r="5.35" fill="url(#gb)"/><circle cx="845.43" cy="44.28" r="5.35" fill="url(#gb)"/><circle cx="856.02" cy="14.52" r="5.35" fill="url(#gb)"/><circle cx="856.02" cy="44.22" r="5.35" fill="url(#gb)"/><circle cx="866.60" cy="14.45" r="5.35" fill="url(#gb)"/><circle cx="866.60" cy="44.15" r="5.35" fill="url(#gb)"/><circle cx="877.18" cy="14.38" r="5.35" fill="url(#gb)"/><circle cx="877.18" cy="44.08" r="5.35" fill="url(#gb)"/><circle cx="887.77" cy="14.31" r="5.35" fill="url(#gb)"/><circle cx="887.77" cy="44.01" r="5.35" fill="url(#gb)"/><circle cx="898.35" cy="14.24" r="5.35" fill="url(#gb)"/><circle cx="898.35" cy="43.94" r="5.35" fill="url(#gb)"/><circle cx="908.94" cy="14.17" r="5.35" fill="url(#gb)"/><circle cx="908.94" cy="43.87" r="5.35" fill="url(#gb)"/><circle cx="919.52" cy="14.10" r="5.35" fill="url(#gb)"/><circle cx="919.52" cy="43.80" r="5.35" fill="url(#gb)"/><circle cx="930.10" cy="14.03" r="5.35" fill="url(#gb)"/><circle cx="930.10" cy="43.73" r="5.35" fill="url(#gb)"/><circle cx="940.69" cy="13.96" r="5.35" fill="url(#gb)"/><circle cx="940.69" cy="43.66" r="5.35" fill="url(#gb)"/><circle cx="951.27" cy="13.90" r="5.35" fill="url(#gb)"/><circle cx="951.27" cy="43.60" r="5.35" fill="url(#gb)"/><circle cx="961.86" cy="13.83" r="5.35" fill="url(#gb)"/><circle cx="961.86" cy="43.53" r="5.35" fill="url(#gb)"/><circle cx="972.44" cy="13.76" r="5.35" fill="url(#gb)"/><circle cx="972.44" cy="43.46" r="5.35" fill="url(#gb)"/><circle cx="983.02" cy="13.69" r="5.35" fill="url(#gb)"/><circle cx="983.02" cy="43.39" r="5.35" fill="url(#gb)"/><circle cx="993.61" cy="13.62" r="5.35" fill="url(#gb)"/><circle cx="993.61" cy="43.32" r="5.35" fill="url(#gb)"/><circle cx="1004.19" cy="13.55" r="5.35" fill="url(#gb)"/><circle cx="1004.19" cy="43.25" r="5.35" fill="url(#gb)"/><circle cx="1014.78" cy="13.48" r="5.35" fill="url(#gb)"/><circle cx="1014.78" cy="43.18" r="5.35" fill="url(#gb)"/><circle cx="1025.36" cy="13.41" r="5.35" fill="url(#gb)"/><circle cx="1025.36" cy="43.11" r="5.35" fill="url(#gb)"/><circle cx="1035.94" cy="13.34" r="5.35" fill="url(#gb)"/><circle cx="1035.94" cy="43.04" r="5.35" fill="url(#gb)"/><circle cx="1046.53" cy="13.28" r="5.35" fill="url(#gb)"/><circle cx="1046.53" cy="42.98" r="5.35" fill="url(#gb)"/><circle cx="1057.11" cy="13.21" r="5.35" fill="url(#gb)"/><circle cx="1057.11" cy="42.91" r="5.35" fill="url(#gb)"/><circle cx="1067.70" cy="13.14" r="5.35" fill="url(#gb)"/><circle cx="1067.70" cy="42.84" r="5.35" fill="url(#gb)"/><circle cx="1078.28" cy="13.07" r="5.35" fill="url(#gb)"/><circle cx="1078.28" cy="42.77" r="5.35" fill="url(#gb)"/><circle cx="1088.86" cy="13.00" r="5.35" fill="url(#gb)"/><circle cx="1088.86" cy="42.70" r="5.35" fill="url(#gb)"/><circle cx="1099.45" cy="12.93" r="5.35" fill="url(#gb)"/><circle cx="1099.45" cy="42.63" r="5.35" fill="url(#gb)"/><circle cx="1110.03" cy="12.86" r="5.35" fill="url(#gb)"/><circle cx="1110.03" cy="42.56" r="5.35" fill="url(#gb)"/><circle cx="1120.62" cy="12.79" r="5.35" fill="url(#gb)"/><circle cx="1120.62" cy="42.49" r="5.35" fill="url(#gb)"/><circle cx="1131.20" cy="12.72" r="5.35" fill="url(#gb)"/><circle cx="1131.20" cy="42.42" r="5.35" fill="url(#gb)"/><circle cx="1141.78" cy="12.66" r="5.35" fill="url(#gb)"/><circle cx="1141.78" cy="42.36" r="5.35" fill="url(#gb)"/><circle cx="1152.37" cy="12.59" r="5.35" fill="url(#gb)"/><circle cx="1152.37" cy="42.29" r="5.35" fill="url(#gb)"/><circle cx="1162.95" cy="12.52" r="5.35" fill="url(#gb)"/><circle cx="1162.95" cy="42.22" r="5.35" fill="url(#gb)"/><circle cx="1173.54" cy="12.45" r="5.35" fill="url(#gb)"/><circle cx="1173.54" cy="42.15" r="5.35" fill="url(#gb)"/><circle cx="1184.12" cy="12.38" r="5.35" fill="url(#gb)"/><circle cx="1184.12" cy="42.08" r="5.35" fill="url(#gb)"/><circle cx="1194.70" cy="12.31" r="5.35" fill="url(#gb)"/><circle cx="1194.70" cy="42.01" r="5.35" fill="url(#gb)"/><circle cx="1205.29" cy="12.24" r="5.35" fill="url(#gb)"/><circle cx="1205.29" cy="41.94" r="5.35" fill="url(#gb)"/><circle cx="1215.87" cy="12.17" r="5.35" fill="url(#gb)"/><circle cx="1215.87" cy="41.87" r="5.35" fill="url(#gb)"/><circle cx="1226.46" cy="12.11" r="5.35" fill="url(#gb)"/><circle cx="1226.46" cy="41.81" r="5.35" fill="url(#gb)"/><circle cx="1237.04" cy="12.04" r="5.35" fill="url(#gb)"/><circle cx="1237.04" cy="41.74" r="5.35" fill="url(#gb)"/><circle cx="1247.62" cy="11.97" r="5.35" fill="url(#gb)"/><circle cx="1247.62" cy="41.67" r="5.35" fill="url(#gb)"/><circle cx="1258.21" cy="11.90" r="5.35" fill="url(#gb)"/><circle cx="1258.21" cy="41.60" r="5.35" fill="url(#gb)"/></g>
<use href="#mem" transform="translate(-7.7 736.3)"/>
<text x="199" y="82.5" font-size="25.5" fill="#221e1f" text-anchor="middle" stroke="#221e1f" stroke-width="0.3" >Glucose</text>
<text x="203.7" y="186.5" font-size="25.5" fill="#221e1f" text-anchor="middle" stroke="#221e1f" stroke-width="0.3" >Pyruvate</text>
<text x="210" y="293.5" font-size="25.5" fill="#221e1f" text-anchor="middle" stroke="#221e1f" stroke-width="0.3" >Acetaldehyde</text>
<text x="202" y="396" font-size="25.5" fill="#221e1f" text-anchor="middle" stroke="#221e1f" stroke-width="0.3" >Acetate</text>
<text x="208.7" y="499" font-size="25.5" fill="#221e1f" text-anchor="middle" stroke="#221e1f" stroke-width="0.3" >Acetyl-CoA</text>
<text x="211.7" y="613.5" font-size="25.5" fill="#221e1f" text-anchor="middle" stroke="#221e1f" stroke-width="0.3" >Acetoacetyl-CoA</text>
<text x="202.5" y="715" font-size="25.5" fill="#221e1f" text-anchor="middle" stroke="#221e1f" stroke-width="0.3" >HMG-CoA</text>
<text x="440" y="715" font-size="25.5" fill="#221e1f" text-anchor="middle" stroke="#221e1f" stroke-width="0.3" >Mevalonate</text>
<text x="434.5" y="613.5" font-size="25.5" fill="#221e1f" text-anchor="middle" stroke="#221e1f" stroke-width="0.3" >Mevalonate-5-P</text>
<text x="429.3" y="506.2" font-size="25.5" fill="#221e1f" text-anchor="middle" stroke="#221e1f" stroke-width="0.3" >IPP</text>
<text x="434.5" y="397.5" font-size="25.5" fill="#221e1f" text-anchor="middle" stroke="#221e1f" stroke-width="0.3" >DMAPP</text>
<text x="537.5" y="448.5" font-size="25.5" fill="#221e1f" text-anchor="middle" stroke="#221e1f" stroke-width="0.3" >FPP</text>
<text x="216.5" y="440" font-size="20" fill="#221e1f" stroke="#221e1f" stroke-width="0.3" >ACS1</text>
<text x="212" y="553.5" font-size="20" fill="#221e1f" stroke="#221e1f" stroke-width="0.3" >ERG10</text>
<text x="278" y="694" font-size="20" fill="#221e1f" stroke="#221e1f" stroke-width="0.3" >tHMG1</text>
<text x="441" y="668.5" font-size="20" fill="#221e1f" stroke="#221e1f" stroke-width="0.3" >ERG12</text>
<text x="365" y="560" font-size="20" fill="#221e1f" stroke="#221e1f" stroke-width="0.3" >ERG8</text>
<text x="440" y="560" font-size="20" fill="#221e1f" stroke="#221e1f" stroke-width="0.3" >MVD1</text>
<text x="380" y="448.5" font-size="20" fill="#221e1f" stroke="#221e1f" stroke-width="0.3" >IDI1</text>
<text x="452" y="469" font-size="20" fill="#221e1f" stroke="#221e1f" stroke-width="0.3" >ERG20</text>
<text x="573" y="428.8" font-size="20" fill="#221e1f" stroke="#221e1f" stroke-width="0.3" >ERG9</text>
<line x1="200.5" y1="91.0" x2="200.5" y2="148.6" stroke="#221e1f" stroke-width="2.7"/>
<polygon points="200.5,161.6 208.8,141.6 200.5,147.6 192.2,141.6" fill="#221e1f"/>
<line x1="200.5" y1="195.5" x2="200.5" y2="253.6" stroke="#221e1f" stroke-width="2.7"/>
<polygon points="200.5,266.6 208.8,246.6 200.5,252.6 192.2,246.6" fill="#221e1f"/>
<line x1="200.5" y1="302.0" x2="200.5" y2="358.6" stroke="#221e1f" stroke-width="2.7"/>
<polygon points="200.5,371.6 208.8,351.6 200.5,357.6 192.2,351.6" fill="#221e1f"/>
<line x1="200.5" y1="405.0" x2="200.5" y2="462.8" stroke="#221e1f" stroke-width="2.7"/>
<polygon points="200.5,475.8 208.8,455.8 200.5,461.8 192.2,455.8" fill="#221e1f"/>
<line x1="200.5" y1="511.8" x2="200.5" y2="570.0" stroke="#221e1f" stroke-width="2.7"/>
<polygon points="200.5,583.0 208.8,563.0 200.5,569.0 192.2,563.0" fill="#221e1f"/>
<line x1="200.5" y1="619.5" x2="200.5" y2="677.5" stroke="#221e1f" stroke-width="2.7"/>
<polygon points="200.5,690.5 208.8,670.5 200.5,676.5 192.2,670.5" fill="#221e1f"/>
<line x1="271.0" y1="704.0" x2="346.0" y2="704.0" stroke="#221e1f" stroke-width="2.7"/>
<polygon points="359.0,704.0 339.0,695.8 345.0,704.0 339.0,712.2" fill="#221e1f"/>
<line x1="428.8" y1="690.0" x2="428.8" y2="633.0" stroke="#221e1f" stroke-width="3.2"/>
<polygon points="428.8,620.0 420.6,640.0 428.8,634.0 437.1,640.0" fill="#221e1f"/>
<line x1="428.8" y1="586.5" x2="428.8" y2="530.0" stroke="#221e1f" stroke-width="3.2"/>
<polygon points="428.8,517.0 420.6,537.0 428.8,531.0 437.1,537.0" fill="#221e1f"/>
<line x1="429.3" y1="425.8" x2="429.3" y2="461.6" stroke="#221e1f" stroke-width="3.6"/>
<polygon points="429.3,474.6 437.6,454.6 429.3,460.6 421.1,454.6" fill="#221e1f"/>
<polygon points="429.3,412.8 421.1,432.8 429.3,426.8 437.6,432.8" fill="#221e1f"/>
<line x1="453.4" y1="440.6" x2="493.4" y2="440.6" stroke="#221e1f" stroke-width="3.6"/>
<polygon points="506.4,440.6 486.4,432.4 492.4,440.6 486.4,448.9" fill="#221e1f"/>
<line x1="576.0" y1="440.6" x2="616.3" y2="440.6" stroke="#221e1f" stroke-width="3.6"/>
<polygon points="629.3,440.6 609.3,432.4 615.3,440.6 609.3,448.9" fill="#221e1f"/>
<line x1="755.5" y1="441.0" x2="795.5" y2="441.0" stroke="#221e1f" stroke-width="3.6"/>
<polygon points="808.5,441.0 788.5,432.8 794.5,441.0 788.5,449.2" fill="#221e1f"/>
<path d="M512.0,136.5L514.6,135.6L517.8,134.4L521.7,133.0L526.0,131.4L530.7,129.8L535.6,128.0L540.6,126.3L545.7,124.5L550.8,122.9L555.6,121.5L560.4,120.1L565.3,118.8L570.2,117.5L575.3,116.2L580.4,114.9L585.5,113.7L590.7,112.5L595.8,111.4L600.9,110.4L606.0,109.5L610.9,108.7L615.6,107.9L620.2,107.2L624.8,106.6L629.4,106.0L634.1,105.5L639.1,105.1L644.3,104.7L649.9,104.3L656.0,104.0L662.6,103.7L669.9,103.5L677.6,103.3L685.5,103.2L693.7,103.1L701.9,103.0L709.9,103.1L717.7,103.1L725.1,103.3L732.0,103.5L738.6,103.8L745.2,104.3L751.8,104.9L758.2,105.5L764.2,106.2L770.0,106.9L775.2,107.6L779.9,108.2L783.8,108.6L787.0,109.0" fill="none" stroke="#ced3eb" stroke-width="21" stroke-linecap="round" stroke-linejoin="round"/>
<rect x="611" y="118" width="15" height="30" fill="#ced3eb"/>
<path d="M844.0,129.5L846.5,129.9L849.8,130.2L853.6,130.6L857.9,131.1L862.6,131.7L867.4,132.4L872.3,133.2L877.1,134.3L881.7,135.5L886.0,137.0L890.1,138.7L894.1,140.7L898.2,142.9L902.2,145.2L906.2,147.7L910.2,150.4L914.1,153.1L917.8,156.0L921.5,159.0L925.0,162.0L928.4,165.2L931.6,168.6L934.7,172.3L937.6,176.0L940.6,179.9L943.4,183.7L946.3,187.5L949.1,191.2L952.0,194.7L955.0,198.0L958.0,201.1L961.0,204.0L964.1,206.8L967.1,209.5L970.2,212.1L973.2,214.7L976.2,217.3L979.2,219.8L982.1,222.4L985.0,225.0L987.8,227.5L990.7,229.9L993.5,232.1L996.3,234.4L999.0,236.6L1001.7,239.0L1004.4,241.5L1007.0,244.3L1009.5,247.5L1012.0,251.0L1014.4,255.0L1016.7,259.3L1018.9,263.9L1021.1,268.8L1023.2,273.9L1025.3,279.2L1027.4,284.4L1029.6,289.7L1031.7,294.9L1034.0,300.0L1036.4,305.1L1038.9,310.4L1041.4,315.8L1044.0,321.3L1046.6,326.7L1049.2,332.0L1051.6,337.2L1053.9,342.1L1056.0,346.7L1057.8,351.0L1059.4,354.9L1060.8,358.6L1062.0,362.1L1063.1,365.4L1064.0,368.4L1064.9,371.3L1065.7,374.0L1066.4,376.5L1067.2,378.8L1068.0,381.0L1068.8,383.0L1069.6,384.7L1070.3,386.3L1071.0,387.7L1071.6,388.9L1072.2,389.9L1072.8,390.8L1073.3,391.7L1073.7,392.4L1074.0,393.0" fill="none" stroke="#ced3eb" stroke-width="15" stroke-linecap="round" stroke-linejoin="round"/>
<path d="M960.0,203.0L961.5,204.3L963.4,205.9L965.6,207.9L968.1,210.0L970.8,212.4L973.6,214.9L976.5,217.4L979.4,220.0L982.3,222.5L985.0,225.0L987.7,227.3L990.4,229.6L993.3,231.8L996.1,234.0L999.0,236.3L1001.8,238.8L1004.7,241.4L1007.5,244.3L1010.3,247.5L1013.0,251.0L1015.7,255.0L1018.3,259.3L1021.0,263.9L1023.6,268.8L1026.2,273.9L1028.7,279.2L1031.2,284.4L1033.7,289.7L1036.1,294.9L1038.5,300.0L1040.9,305.1L1043.2,310.4L1045.6,315.8L1047.9,321.3L1050.2,326.7L1052.4,332.0L1054.5,337.2L1056.5,342.1L1058.3,346.7L1060.0,351.0L1061.5,354.9L1062.8,358.6L1064.0,362.0L1065.0,365.3L1066.0,368.3L1066.8,371.2L1067.7,373.8L1068.4,376.4L1069.2,378.7L1070.0,381.0L1070.8,383.1L1071.6,385.0L1072.3,386.8L1073.0,388.4L1073.6,389.9L1074.2,391.2L1074.8,392.3L1075.2,393.4L1075.7,394.2L1076.0,395.0" fill="none" stroke="#ced3eb" stroke-width="19.5" stroke-linecap="round" stroke-linejoin="round"/>
<path d="M337.0,371.0L337.8,369.2L338.7,366.8L339.9,364.0L341.1,360.9L342.5,357.6L344.0,354.1L345.5,350.6L347.0,347.2L348.5,343.9L350.0,341.0L351.5,338.3L353.0,335.7L354.5,333.1L356.0,330.6L357.6,328.2L359.2,325.8L360.9,323.3L362.6,320.9L364.3,318.5L366.0,316.0L367.8,313.5L369.5,311.0L371.4,308.5L373.2,306.0L375.1,303.5L377.0,301.0L378.9,298.5L380.9,296.0L382.9,293.5L385.0,291.0L387.1,288.5L389.3,285.9L391.5,283.4L393.7,280.9L396.0,278.3L398.3,275.8L400.7,273.2L403.1,270.7L405.5,268.1L408.0,265.6L410.5,263.0L413.1,260.5L415.6,257.9L418.3,255.3L420.9,252.8L423.6,250.2L426.4,247.6L429.2,245.1L432.1,242.5L435.0,240.0L437.9,237.5L440.9,235.0L443.9,232.5L446.9,230.0L449.9,227.5L453.1,225.0L456.4,222.5L459.8,220.0L463.3,217.5L467.0,215.0L471.0,212.5L475.2,209.9L479.6,207.3L484.2,204.7L488.8,202.1L493.5,199.6L498.1,197.1L502.6,194.6L506.9,192.3L511.0,190.0L514.8,187.8L518.2,185.8L521.5,183.7L524.6,181.8L527.7,179.9L530.8,178.0L534.1,176.2L537.7,174.4L541.6,172.7L546.0,171.0L550.8,169.3L556.1,167.6L561.6,166.0L567.4,164.4L573.4,162.8L579.5,161.3L585.6,159.9L591.7,158.5L597.7,157.2L603.5,156.0L609.1,154.9L614.7,153.8L620.2,152.9L625.7,152.0L631.2,151.1L636.7,150.4L642.3,149.7L648.0,149.0L653.9,148.5L660.0,148.0L666.3,147.6L673.0,147.2L679.8,146.9L686.7,146.6L693.7,146.4L700.7,146.3L707.6,146.3L714.3,146.4L720.8,146.7L727.0,147.0L732.9,147.5L738.5,148.0L743.9,148.7L749.1,149.4L754.2,150.3L759.3,151.3L764.4,152.3L769.5,153.5L774.7,154.7L780.0,156.0L785.5,157.4L791.1,159.0L796.8,160.8L802.5,162.6L808.2,164.5L813.9,166.4L819.5,168.4L824.9,170.3L830.1,172.2L835.0,174.0L839.7,175.7L844.1,177.4L848.4,179.0L852.5,180.7L856.5,182.3L860.4,184.0L864.3,185.6L868.2,187.4L872.0,189.1L876.0,191.0L880.0,192.9L884.0,194.8L888.0,196.6L891.9,198.5L895.9,200.5L899.8,202.5L903.7,204.7L907.5,207.0L911.3,209.4L915.0,212.0L918.7,214.8L922.4,217.8L926.0,220.9L929.7,224.1L933.2,227.4L936.8,230.9L940.2,234.4L943.6,237.9L946.8,241.4L950.0,245.0L953.1,248.6L956.0,252.3L958.9,256.1L961.7,260.0L964.4,263.9L967.1,267.8L969.7,271.7L972.2,275.5L974.6,279.3L977.0,283.0L979.3,286.6L981.6,290.2L983.9,293.8L986.0,297.4L988.1,300.9L990.1,304.4L992.0,307.8L993.8,311.2L995.5,314.6L997.0,318.0L998.4,321.3L999.6,324.5L1000.8,327.7L1001.8,330.9L1002.7,334.0L1003.5,337.1L1004.2,340.3L1004.9,343.5L1005.5,346.7L1006.0,350.0L1006.5,353.4L1006.8,356.8L1007.1,360.2L1007.3,363.7L1007.4,367.2L1007.4,370.7L1007.4,374.3L1007.3,377.8L1007.2,381.4L1007.0,385.0L1006.7,388.8L1006.3,392.9L1005.8,397.1L1005.2,401.4L1004.6,405.7L1003.9,409.8L1003.3,413.6L1002.8,416.9L1002.3,419.8L1002.0,422.0" fill="none" stroke="#ced3eb" stroke-width="23" stroke-linecap="round" stroke-linejoin="round"/>
<path d="M497.0,239.0L499.6,237.7L503.1,235.9L507.1,233.7L511.7,231.4L516.6,228.8L521.7,226.2L526.7,223.6L531.5,221.2L536.0,218.9L540.0,217.0L543.5,215.3L546.8,213.8L550.0,212.3L552.9,211.0L555.8,209.8L558.6,208.6L561.4,207.4L564.2,206.3L567.1,205.1L570.0,204.0L573.0,202.9L575.8,201.8L578.7,200.7L581.5,199.6L584.4,198.6L587.3,197.6L590.3,196.7L593.4,195.8L596.6,194.9L600.0,194.0L603.5,193.2L607.2,192.3L611.0,191.6L614.8,190.8L618.8,190.1L622.8,189.4L627.0,188.7L631.2,188.1L635.5,187.5L640.0,187.0L644.7,186.5L649.8,186.1L655.1,185.7L660.5,185.4L666.0,185.1L671.4,184.8L676.6,184.6L681.5,184.3L686.0,184.2L690.0,184.0L693.6,183.9L696.8,183.8L699.9,183.8L702.6,183.8L705.1,183.8L707.4,183.9L709.4,183.9L711.2,184.0L712.7,184.0L714.0,184.0" fill="none" stroke="#ced3eb" stroke-width="20.5" stroke-linecap="round" stroke-linejoin="round"/>
<rect x="559" y="176" width="16" height="22" fill="#ced3eb"/>
<path d="M655,190 L655,226" stroke="#ced3eb" stroke-width="15" stroke-linecap="round"/>
<path d="M780.0,198.0L781.1,198.2L782.3,198.3L783.7,198.4L785.4,198.5L787.2,198.7L789.2,199.0L791.5,199.4L794.1,200.0L796.9,200.7L800.0,201.7L803.5,202.9L807.4,204.2L811.7,205.7L816.2,207.4L820.9,209.2L825.8,211.1L830.7,213.2L835.6,215.4L840.4,217.6L845.0,220.0L849.5,222.5L854.2,225.1L858.8,227.9L863.5,230.8L868.1,233.8L872.7,236.9L877.2,240.0L881.6,243.3L885.9,246.6L890.0,250.0L893.9,253.5L897.8,257.1L901.5,260.8L905.2,264.6L908.7,268.5L912.1,272.4L915.5,276.3L918.7,280.3L921.9,284.2L925.0,288.0L928.0,291.9L930.9,295.8L933.7,299.8L936.4,303.8L939.1,307.8L941.6,311.7L944.1,315.5L946.5,319.2L948.8,322.7L951.0,326.0L953.2,329.1L955.2,331.9L957.2,334.6L959.1,337.2L960.9,339.6L962.6,342.0L964.3,344.4L965.9,346.9L967.5,349.4L969.0,352.0L970.5,354.7L971.8,357.5L973.2,360.3L974.4,363.2L975.6,366.1L976.8,368.9L977.9,371.8L979.0,374.6L980.0,377.3L981.0,380.0L982.0,382.7L982.9,385.3L983.8,388.0L984.6,390.6L985.4,393.2L986.1,395.8L986.9,398.3L987.6,400.6L988.3,402.9L989.0,405.0L989.7,407.0L990.4,409.0L991.1,411.0L991.8,412.8L992.5,414.6L993.1,416.2L993.7,417.7L994.2,419.0L994.7,420.1L995.0,421.0" fill="none" stroke="#ced3eb" stroke-width="20" stroke-linecap="round" stroke-linejoin="round"/>
<path d="M958.0,292.0L959.1,293.7L960.5,295.8L962.2,298.3L964.1,301.1L966.2,304.1L968.3,307.3L970.4,310.6L972.4,313.8L974.3,317.0L976.0,320.0L977.5,322.9L979.0,325.8L980.5,328.7L981.8,331.6L983.2,334.6L984.5,337.5L985.7,340.6L986.9,343.6L988.0,346.8L989.0,350.0L990.0,353.3L990.8,356.7L991.7,360.1L992.4,363.6L993.1,367.2L993.8,370.8L994.4,374.3L995.0,377.9L995.5,381.5L996.0,385.0L996.5,388.7L996.9,392.6L997.3,396.6L997.6,400.7L997.9,404.7L998.2,408.5L998.4,412.1L998.7,415.2L998.8,417.9L999.0,420.0" fill="none" stroke="#ced3eb" stroke-width="20" stroke-linecap="round" stroke-linejoin="round"/>
<path d="M974,273L990,329" stroke="#fff" stroke-width="2.2" stroke-linecap="round"/>
<path d="M912,196 L940,180" stroke="#ced3eb" stroke-width="16"/>
<path d="M836,226 L822,252" stroke="#ced3eb" stroke-width="17" stroke-linecap="round"/>
<path d="M330.1,358.8L331.8,355.4L334.1,350.6L336.9,345.0L340.0,339.0L343.2,332.9L346.5,327.3L350.2,321.7L354.4,315.6L358.8,309.6L363.0,304.0L366.6,299.2L369.1,295.8M389.3,270.6L392.0,267.7L395.8,263.6L400.2,258.7L405.1,253.6L409.9,248.6L414.5,244.2L419.1,240.1L424.2,235.9L429.3,231.8L434.0,228.2L438.0,225.1L440.9,222.8M463.6,205.1L467.1,202.9L471.9,199.9L477.6,196.3L483.7,192.5L489.7,189.0L495.0,186.0L500.1,183.5L505.3,181.0L510.5,178.8L515.2,176.8L519.1,175.2L522.0,174.0M333.5,386.3L333.9,386.3L334.3,386.4L334.9,386.5L335.6,386.4L336.4,385.8L337.5,384.5L338.7,382.6L340.1,380.3L341.6,377.5L343.3,374.3L345.3,370.6L347.7,366.4L350.7,361.1L354.4,354.6L358.4,347.6L362.3,340.9L365.6,335.1L367.9,331.1M385.5,307.2L387.8,304.3L391.0,300.2L394.7,295.4L398.8,290.3L402.9,285.3L406.9,280.7L411.0,276.3L415.6,271.7L420.2,267.1L424.6,262.9L428.3,259.4L430.9,256.8M452.3,237.9L454.3,236.2L457.2,233.9L460.5,231.2L464.1,228.3L467.8,225.4L471.2,222.8L474.7,220.3L478.6,217.6L482.4,214.9L486.0,212.5L489.1,210.4L491.3,208.9M496.4,227.8L498.9,226.6L502.3,224.8L506.3,222.8L510.6,220.6L515.0,218.4L519.0,216.5L523.0,214.6L527.4,212.7L531.8,210.7L535.8,209.0L539.2,207.5L541.7,206.4M491.3,250.5L493.9,249.1L497.5,247.1L501.8,244.8L506.4,242.4L511.0,240.0L515.3,237.9L519.6,236.0L524.2,234.0L528.8,232.1L533.0,230.3L536.6,228.9L539.2,227.8M561.9,215.2L564.6,214.3L568.4,213.0L572.9,211.5L577.7,209.9L582.5,208.3L587.0,207.0L591.5,205.8L596.4,204.7L601.2,203.6L605.7,202.7L609.5,201.9L612.3,201.3M544.2,160.5L547.3,159.5L551.7,158.1L556.8,156.5L562.4,154.7L568.0,153.1L573.2,151.7L578.5,150.5L584.3,149.4L590.2,148.3L595.6,147.4L600.2,146.6L603.5,146.0M631.2,140.4L632.8,139.9L635.1,139.1L637.7,138.3L640.6,137.4L643.5,136.8L646.3,136.6L649.1,136.8L652.2,137.2L655.3,137.9L658.2,138.7L660.8,139.5L662.7,140.4L664.1,141.3L665.0,142.3L665.5,143.3L665.7,144.4L665.6,145.6L665.2,146.7L664.3,148.0L662.8,149.4L661.0,150.8L659.1,152.2L657.5,153.4L656.4,154.2M603.5,165.6L606.8,164.7L611.7,163.3L617.4,161.8L623.0,160.3L627.9,158.9L631.2,158.0M527.9,188.3L530.2,187.5L533.5,186.4L537.3,185.2L541.2,183.9L544.5,182.8L546.8,182.0M560.6,179.4L560.8,181.1L561.0,183.5L561.2,186.3L561.5,189.2L561.7,191.6L561.9,193.3M580.8,187.0L583.5,186.4L587.2,185.4L591.7,184.4L596.5,183.2L601.4,182.1L606.0,181.2L610.8,180.3L616.1,179.5L621.4,178.7L626.4,178.0L630.7,177.4L633.7,176.9M661.4,174.4L664.4,174.2L668.7,173.8L673.7,173.5L679.0,173.1L684.3,172.8L689.1,172.6L693.6,172.5L698.3,172.4L702.9,172.3L707.2,172.4L711.1,172.7L714.3,173.1L716.8,173.8L718.8,174.7L720.3,175.7L721.5,176.9L722.4,178.1L723.1,179.4L723.6,180.8L724.0,182.3L724.0,183.9L723.7,185.5L723.0,187.0L721.9,188.3L720.0,189.4L717.3,190.4L714.3,191.4L711.2,192.1L708.6,192.8L706.8,193.3M661.4,203.4L661.6,206.7L661.8,211.5L662.1,217.1L662.3,222.8L662.3,227.7L661.9,231.1L661.0,232.9L659.6,233.7L657.9,233.7L656.3,233.4L654.9,233.0L653.9,232.9M716.8,136.6L720.3,136.8L725.0,136.9L730.6,137.2L736.8,137.5L743.4,138.1L750.0,139.0L757.3,140.3L765.8,142.1L774.6,144.2L782.9,146.1L790.0,147.8L795.0,149.0M727.0,156.8L729.8,157.1L733.7,157.5L738.2,158.0L743.2,158.6L748.2,159.3L753.0,160.0L757.9,160.9L763.3,162.0L768.8,163.2L773.9,164.3L778.3,165.3L781.4,166.0M797.8,151.6L802.4,153.0L809.0,155.0L816.7,157.3L824.4,159.6L831.0,161.6L835.6,163.0M802.8,173.0L805.5,173.9L809.3,175.2L813.7,176.7L818.6,178.4L823.4,180.2L828.0,181.9L832.6,183.8L837.7,185.9L842.8,188.1L847.6,190.2L851.6,191.9L854.5,193.2M872.1,181.9L874.1,182.7L877.0,183.7L880.3,184.9L883.9,186.3L887.6,187.8L891.0,189.4L894.5,191.2L898.4,193.3L902.3,195.6L905.9,197.7L909.0,199.5L911.2,200.8M800.3,189.4L797.3,189.2L793.0,188.7L788.0,188.2L783.0,187.9L778.5,187.8L775.1,188.2L772.9,189.1L771.3,190.4L770.3,192.0L769.7,193.7L769.5,195.4L769.6,197.0L770.0,198.5L770.7,200.0L771.8,201.6L773.3,203.1L775.3,204.5L777.6,205.8L780.8,207.1L784.9,208.3L789.4,209.5L793.9,210.6L797.7,211.4L800.3,212.1M809.0,193.5L810.4,194.0L812.3,194.6L814.6,195.3L817.2,196.1L820.0,197.1L823.0,198.3L826.5,199.8L830.8,201.6L835.2,203.6L839.5,205.5L843.1,207.2L845.7,208.3M820.5,218.4L822.0,219.3L824.2,220.7L826.8,222.2L829.4,223.7L831.6,225.1L833.1,226.0M830.5,229.0L828.8,231.1L826.4,234.1L823.6,237.6L820.8,241.0L818.4,244.0L816.7,246.1M838.1,237.3L836.4,240.0L833.9,244.0L831.0,248.7L828.0,253.3L825.3,257.3L823.0,260.0L821.2,261.3L819.6,261.7L818.3,261.4L817.1,260.8L816.1,260.3L815.4,260.0M870.9,205.8L873.9,207.6L878.3,210.3L883.4,213.4L888.6,216.4L893.0,219.1L896.0,220.9M876.0,222.0L878.2,223.0L881.3,224.4L885.0,226.0L888.7,227.6L891.8,229.0L894.0,230.0M885.0,226.5L884.5,227.6L883.8,229.3L883.0,231.2L882.2,233.2L881.5,234.9L881.0,236.0M853.2,236.1L855.4,237.5L858.5,239.4L862.2,241.6L866.1,244.0L870.0,246.5L873.4,248.7L876.7,250.9L880.1,253.3L883.5,255.7L886.5,258.0L889.1,259.8L891.0,261.2M936.4,228.5L938.6,230.5L941.6,233.3L945.2,236.6L949.0,240.2L952.9,243.9L956.5,247.4L960.1,251.1L964.0,255.1L967.9,259.3L971.5,263.2L974.5,266.4L976.7,268.8M901.1,251.2L903.6,253.1L907.0,255.7L911.0,258.7L915.4,262.1L919.8,265.5L923.8,268.8L927.8,272.2L932.2,276.1L936.5,280.0L940.5,283.7L943.9,286.8L946.4,289.0M911.2,276.4L913.6,278.8L917.2,282.4L921.3,286.4L925.3,290.5L928.9,294.1L931.3,296.5M990.2,287.7L991.8,289.9L993.9,293.0L996.5,296.6L999.3,300.5L1002.0,304.5L1004.4,308.2L1006.7,312.0L1009.2,316.2L1011.6,320.5L1013.8,324.4L1015.6,327.8L1017.0,330.2M974.5,300.3L975.5,301.8L976.9,303.9L978.6,306.4L980.4,309.1L982.2,311.9L983.9,314.5L985.6,317.2L987.4,320.2L989.2,323.2L990.9,326.1L992.4,328.5L993.4,330.2M961.9,311.3L963.1,313.3L964.8,316.1L966.8,319.5L968.9,323.1L971.0,326.7L972.9,330.2L974.7,333.8L976.5,337.7L978.3,341.6L980.0,345.3L981.4,348.5L982.4,350.7M949.3,328.7L950.7,330.9L952.7,334.0L955.0,337.7L957.5,341.7L959.8,345.6L961.9,349.1L963.8,352.6L965.6,356.2L967.4,359.8L969.0,363.2L970.3,366.0L971.3,368.0M992.6,371.2L993.8,374.1L995.4,378.2L997.3,382.9L999.3,388.1L1001.2,393.2L1002.8,398.0L1004.1,402.8L1005.4,407.9L1006.6,413.0L1007.6,417.8L1008.5,421.8L1009.1,424.7M979.2,390.0L980.1,392.1L981.2,394.9L982.7,398.2L984.2,401.9L985.7,405.5L987.1,409.0L988.5,412.6L990.0,416.5L991.5,420.4L993.0,424.1L994.1,427.2L995.0,429.4" fill="none" stroke="#857a73" stroke-width="4.3" stroke-linecap="round" stroke-linejoin="round"/>
<circle cx="860.3" cy="360.3" r="7" fill="#f9b42d" stroke="#231815" stroke-width="1.4"/>
<circle cx="769.6" cy="406.2" r="7" fill="#f9b42d" stroke="#231815" stroke-width="1.4"/>
<circle cx="792.3" cy="343.9" r="63.8" fill="#f4d8c1"/>
<circle cx="792.3" cy="343.9" r="55.599999999999994" fill="none" stroke="#73645c" stroke-width="7" stroke-dasharray="4.9 2.087" transform="rotate(-2.8 792.3 343.9)"/>
<g><circle cx="854.7" cy="343.9" r="4.0" fill="#98703f" stroke="#5c4427" stroke-width="1.1"/><circle cx="854.2" cy="351.7" r="4.0" fill="#98703f" stroke="#5c4427" stroke-width="1.1"/><circle cx="852.7" cy="359.4" r="4.0" fill="#98703f" stroke="#5c4427" stroke-width="1.1"/><circle cx="850.3" cy="366.9" r="4.0" fill="#98703f" stroke="#5c4427" stroke-width="1.1"/><circle cx="847.0" cy="374.0" r="4.0" fill="#98703f" stroke="#5c4427" stroke-width="1.1"/><circle cx="842.8" cy="380.6" r="4.0" fill="#98703f" stroke="#5c4427" stroke-width="1.1"/><circle cx="837.8" cy="386.6" r="4.0" fill="#98703f" stroke="#5c4427" stroke-width="1.1"/><circle cx="832.1" cy="392.0" r="4.0" fill="#98703f" stroke="#5c4427" stroke-width="1.1"/><circle cx="825.7" cy="396.6" r="4.0" fill="#98703f" stroke="#5c4427" stroke-width="1.1"/><circle cx="818.9" cy="400.4" r="4.0" fill="#98703f" stroke="#5c4427" stroke-width="1.1"/><circle cx="811.6" cy="403.2" r="4.0" fill="#98703f" stroke="#5c4427" stroke-width="1.1"/><circle cx="804.0" cy="405.2" r="4.0" fill="#98703f" stroke="#5c4427" stroke-width="1.1"/><circle cx="796.2" cy="406.2" r="4.0" fill="#98703f" stroke="#5c4427" stroke-width="1.1"/><circle cx="788.4" cy="406.2" r="4.0" fill="#98703f" stroke="#5c4427" stroke-width="1.1"/><circle cx="780.6" cy="405.2" r="4.0" fill="#98703f" stroke="#5c4427" stroke-width="1.1"/><circle cx="773.0" cy="403.2" r="4.0" fill="#98703f" stroke="#5c4427" stroke-width="1.1"/><circle cx="765.7" cy="400.4" r="4.0" fill="#98703f" stroke="#5c4427" stroke-width="1.1"/><circle cx="758.9" cy="396.6" r="4.0" fill="#98703f" stroke="#5c4427" stroke-width="1.1"/><circle cx="752.5" cy="392.0" r="4.0" fill="#98703f" stroke="#5c4427" stroke-width="1.1"/><circle cx="746.8" cy="386.6" r="4.0" fill="#98703f" stroke="#5c4427" stroke-width="1.1"/><circle cx="741.8" cy="380.6" r="4.0" fill="#98703f" stroke="#5c4427" stroke-width="1.1"/><circle cx="737.6" cy="374.0" r="4.0" fill="#98703f" stroke="#5c4427" stroke-width="1.1"/><circle cx="734.3" cy="366.9" r="4.0" fill="#98703f" stroke="#5c4427" stroke-width="1.1"/><circle cx="731.9" cy="359.4" r="4.0" fill="#98703f" stroke="#5c4427" stroke-width="1.1"/><circle cx="730.4" cy="351.7" r="4.0" fill="#98703f" stroke="#5c4427" stroke-width="1.1"/><circle cx="729.9" cy="343.9" r="4.0" fill="#98703f" stroke="#5c4427" stroke-width="1.1"/><circle cx="730.4" cy="336.1" r="4.0" fill="#98703f" stroke="#5c4427" stroke-width="1.1"/><circle cx="731.9" cy="328.4" r="4.0" fill="#98703f" stroke="#5c4427" stroke-width="1.1"/><circle cx="734.3" cy="320.9" r="4.0" fill="#98703f" stroke="#5c4427" stroke-width="1.1"/><circle cx="737.6" cy="313.8" r="4.0" fill="#98703f" stroke="#5c4427" stroke-width="1.1"/><circle cx="741.8" cy="307.2" r="4.0" fill="#98703f" stroke="#5c4427" stroke-width="1.1"/><circle cx="746.8" cy="301.2" r="4.0" fill="#98703f" stroke="#5c4427" stroke-width="1.1"/><circle cx="752.5" cy="295.8" r="4.0" fill="#98703f" stroke="#5c4427" stroke-width="1.1"/><circle cx="758.9" cy="291.2" r="4.0" fill="#98703f" stroke="#5c4427" stroke-width="1.1"/><circle cx="765.7" cy="287.4" r="4.0" fill="#98703f" stroke="#5c4427" stroke-width="1.1"/><circle cx="773.0" cy="284.6" r="4.0" fill="#98703f" stroke="#5c4427" stroke-width="1.1"/><circle cx="780.6" cy="282.6" r="4.0" fill="#98703f" stroke="#5c4427" stroke-width="1.1"/><circle cx="788.4" cy="281.6" r="4.0" fill="#98703f" stroke="#5c4427" stroke-width="1.1"/><circle cx="796.2" cy="281.6" r="4.0" fill="#98703f" stroke="#5c4427" stroke-width="1.1"/><circle cx="804.0" cy="282.6" r="4.0" fill="#98703f" stroke="#5c4427" stroke-width="1.1"/><circle cx="811.6" cy="284.6" r="4.0" fill="#98703f" stroke="#5c4427" stroke-width="1.1"/><circle cx="818.9" cy="287.4" r="4.0" fill="#98703f" stroke="#5c4427" stroke-width="1.1"/><circle cx="825.7" cy="291.2" r="4.0" fill="#98703f" stroke="#5c4427" stroke-width="1.1"/><circle cx="832.1" cy="295.8" r="4.0" fill="#98703f" stroke="#5c4427" stroke-width="1.1"/><circle cx="837.8" cy="301.2" r="4.0" fill="#98703f" stroke="#5c4427" stroke-width="1.1"/><circle cx="842.8" cy="307.2" r="4.0" fill="#98703f" stroke="#5c4427" stroke-width="1.1"/><circle cx="847.0" cy="313.8" r="4.0" fill="#98703f" stroke="#5c4427" stroke-width="1.1"/><circle cx="850.3" cy="320.9" r="4.0" fill="#98703f" stroke="#5c4427" stroke-width="1.1"/><circle cx="852.7" cy="328.4" r="4.0" fill="#98703f" stroke="#5c4427" stroke-width="1.1"/><circle cx="854.2" cy="336.1" r="4.0" fill="#98703f" stroke="#5c4427" stroke-width="1.1"/></g>
<polygon points="767.7,310.1 768.6,318.9 776.1,323.5 768.0,327.1 765.9,335.7 760.0,329.1 751.2,329.8 755.6,322.1 752.3,313.9 760.9,315.8" fill="#d81e78" stroke="#2a1216" stroke-width="2.8" stroke-linejoin="miter"/>
<polygon points="792.7,301.9 793.9,310.7 801.6,315.1 793.6,318.9 791.8,327.6 785.7,321.2 776.9,322.1 781.1,314.4 777.5,306.3 786.2,307.9" fill="#d81e78" stroke="#2a1216" stroke-width="2.8" stroke-linejoin="miter"/>
<polygon points="819.9,301.5 821.1,310.3 828.8,314.7 820.8,318.5 819.0,327.2 812.9,320.8 804.1,321.7 808.3,314.0 804.7,305.9 813.4,307.5" fill="#d81e78" stroke="#2a1216" stroke-width="2.8" stroke-linejoin="miter"/>
<polygon points="816.8,329.1 818.0,337.9 825.7,342.3 817.7,346.1 815.9,354.8 809.8,348.4 801.0,349.3 805.2,341.6 801.6,333.5 810.3,335.1" fill="#d81e78" stroke="#2a1216" stroke-width="2.8" stroke-linejoin="miter"/>
<rect x="769.7" y="334.55" width="14" height="17.5" fill="#f7dc1a" stroke="#231815" stroke-width="2.3" transform="rotate(-4 776.7 343.3)"/>
<rect x="755.6" y="361.05" width="14" height="17.5" fill="#f7dc1a" stroke="#231815" stroke-width="2.3" transform="rotate(-5 762.6 369.8)"/>
<rect x="777.3" y="359.75" width="14" height="17.5" fill="#f7dc1a" stroke="#231815" stroke-width="2.3" transform="rotate(-3 784.3 368.5)"/>
<rect x="799.0" y="357.95" width="14" height="17.5" fill="#f7dc1a" stroke="#231815" stroke-width="2.3" transform="rotate(-3 806 366.7)"/>
<rect x="819.6" y="354.75" width="14" height="17.5" fill="#f7dc1a" stroke="#231815" stroke-width="2.3" transform="rotate(-5 826.6 363.5)"/>
<polygon points="697.4,289.1 698.6,297.9 706.3,302.3 698.3,306.1 696.5,314.8 690.4,308.4 681.6,309.3 685.8,301.6 682.2,293.5 690.9,295.1" fill="#d81e78" stroke="#2a1216" stroke-width="2.8" stroke-linejoin="miter"/>
<rect x="684.25" y="411.1" width="13.5" height="17" fill="#f7dc1a" stroke="#231815" stroke-width="2.3" transform="rotate(0 691 419.6)"/>
<circle cx="1139.2" cy="370.3" r="63.5" fill="#f4d8c1"/>
<circle cx="1139.2" cy="370.3" r="55.3" fill="none" stroke="#73645c" stroke-width="7" stroke-dasharray="4.9 2.049" transform="rotate(-2.8 1139.2 370.3)"/>
<g><circle cx="1201.3" cy="370.3" r="4.0" fill="#98703f" stroke="#5c4427" stroke-width="1.1"/><circle cx="1200.8" cy="378.1" r="4.0" fill="#98703f" stroke="#5c4427" stroke-width="1.1"/><circle cx="1199.3" cy="385.7" r="4.0" fill="#98703f" stroke="#5c4427" stroke-width="1.1"/><circle cx="1196.9" cy="393.2" r="4.0" fill="#98703f" stroke="#5c4427" stroke-width="1.1"/><circle cx="1193.6" cy="400.2" r="4.0" fill="#98703f" stroke="#5c4427" stroke-width="1.1"/><circle cx="1189.4" cy="406.8" r="4.0" fill="#98703f" stroke="#5c4427" stroke-width="1.1"/><circle cx="1184.5" cy="412.8" r="4.0" fill="#98703f" stroke="#5c4427" stroke-width="1.1"/><circle cx="1178.8" cy="418.1" r="4.0" fill="#98703f" stroke="#5c4427" stroke-width="1.1"/><circle cx="1172.5" cy="422.7" r="4.0" fill="#98703f" stroke="#5c4427" stroke-width="1.1"/><circle cx="1165.6" cy="426.5" r="4.0" fill="#98703f" stroke="#5c4427" stroke-width="1.1"/><circle cx="1158.4" cy="429.4" r="4.0" fill="#98703f" stroke="#5c4427" stroke-width="1.1"/><circle cx="1150.8" cy="431.3" r="4.0" fill="#98703f" stroke="#5c4427" stroke-width="1.1"/><circle cx="1143.1" cy="432.3" r="4.0" fill="#98703f" stroke="#5c4427" stroke-width="1.1"/><circle cx="1135.3" cy="432.3" r="4.0" fill="#98703f" stroke="#5c4427" stroke-width="1.1"/><circle cx="1127.6" cy="431.3" r="4.0" fill="#98703f" stroke="#5c4427" stroke-width="1.1"/><circle cx="1120.0" cy="429.4" r="4.0" fill="#98703f" stroke="#5c4427" stroke-width="1.1"/><circle cx="1112.8" cy="426.5" r="4.0" fill="#98703f" stroke="#5c4427" stroke-width="1.1"/><circle cx="1105.9" cy="422.7" r="4.0" fill="#98703f" stroke="#5c4427" stroke-width="1.1"/><circle cx="1099.6" cy="418.1" r="4.0" fill="#98703f" stroke="#5c4427" stroke-width="1.1"/><circle cx="1093.9" cy="412.8" r="4.0" fill="#98703f" stroke="#5c4427" stroke-width="1.1"/><circle cx="1089.0" cy="406.8" r="4.0" fill="#98703f" stroke="#5c4427" stroke-width="1.1"/><circle cx="1084.8" cy="400.2" r="4.0" fill="#98703f" stroke="#5c4427" stroke-width="1.1"/><circle cx="1081.5" cy="393.2" r="4.0" fill="#98703f" stroke="#5c4427" stroke-width="1.1"/><circle cx="1079.1" cy="385.7" r="4.0" fill="#98703f" stroke="#5c4427" stroke-width="1.1"/><circle cx="1077.6" cy="378.1" r="4.0" fill="#98703f" stroke="#5c4427" stroke-width="1.1"/><circle cx="1077.1" cy="370.3" r="4.0" fill="#98703f" stroke="#5c4427" stroke-width="1.1"/><circle cx="1077.6" cy="362.5" r="4.0" fill="#98703f" stroke="#5c4427" stroke-width="1.1"/><circle cx="1079.1" cy="354.9" r="4.0" fill="#98703f" stroke="#5c4427" stroke-width="1.1"/><circle cx="1081.5" cy="347.4" r="4.0" fill="#98703f" stroke="#5c4427" stroke-width="1.1"/><circle cx="1084.8" cy="340.4" r="4.0" fill="#98703f" stroke="#5c4427" stroke-width="1.1"/><circle cx="1089.0" cy="333.8" r="4.0" fill="#98703f" stroke="#5c4427" stroke-width="1.1"/><circle cx="1093.9" cy="327.8" r="4.0" fill="#98703f" stroke="#5c4427" stroke-width="1.1"/><circle cx="1099.6" cy="322.5" r="4.0" fill="#98703f" stroke="#5c4427" stroke-width="1.1"/><circle cx="1105.9" cy="317.9" r="4.0" fill="#98703f" stroke="#5c4427" stroke-width="1.1"/><circle cx="1112.8" cy="314.1" r="4.0" fill="#98703f" stroke="#5c4427" stroke-width="1.1"/><circle cx="1120.0" cy="311.2" r="4.0" fill="#98703f" stroke="#5c4427" stroke-width="1.1"/><circle cx="1127.6" cy="309.3" r="4.0" fill="#98703f" stroke="#5c4427" stroke-width="1.1"/><circle cx="1135.3" cy="308.3" r="4.0" fill="#98703f" stroke="#5c4427" stroke-width="1.1"/><circle cx="1143.1" cy="308.3" r="4.0" fill="#98703f" stroke="#5c4427" stroke-width="1.1"/><circle cx="1150.8" cy="309.3" r="4.0" fill="#98703f" stroke="#5c4427" stroke-width="1.1"/><circle cx="1158.4" cy="311.2" r="4.0" fill="#98703f" stroke="#5c4427" stroke-width="1.1"/><circle cx="1165.6" cy="314.1" r="4.0" fill="#98703f" stroke="#5c4427" stroke-width="1.1"/><circle cx="1172.5" cy="317.9" r="4.0" fill="#98703f" stroke="#5c4427" stroke-width="1.1"/><circle cx="1178.8" cy="322.5" r="4.0" fill="#98703f" stroke="#5c4427" stroke-width="1.1"/><circle cx="1184.5" cy="327.8" r="4.0" fill="#98703f" stroke="#5c4427" stroke-width="1.1"/><circle cx="1189.4" cy="333.8" r="4.0" fill="#98703f" stroke="#5c4427" stroke-width="1.1"/><circle cx="1193.6" cy="340.4" r="4.0" fill="#98703f" stroke="#5c4427" stroke-width="1.1"/><circle cx="1196.9" cy="347.4" r="4.0" fill="#98703f" stroke="#5c4427" stroke-width="1.1"/><circle cx="1199.3" cy="354.9" r="4.0" fill="#98703f" stroke="#5c4427" stroke-width="1.1"/><circle cx="1200.8" cy="362.5" r="4.0" fill="#98703f" stroke="#5c4427" stroke-width="1.1"/></g>
<polygon points="1101.5,343.5 1106.1,351.0 1114.9,351.9 1109.2,358.7 1111.1,367.3 1102.9,364.0 1095.2,368.4 1095.9,359.6 1089.3,353.7 1097.9,351.6" fill="#d81e78" stroke="#2a1216" stroke-width="2.8" stroke-linejoin="miter"/>
<polygon points="1123.7,328.6 1128.9,335.8 1137.7,336.1 1132.5,343.2 1135.0,351.7 1126.6,349.0 1119.3,353.9 1119.3,345.1 1112.3,339.7 1120.7,337.0" fill="#d81e78" stroke="#2a1216" stroke-width="2.8" stroke-linejoin="miter"/>
<polygon points="1150.7,322.5 1155.3,330.0 1164.1,330.9 1158.4,337.7 1160.3,346.3 1152.1,343.0 1144.4,347.4 1145.1,338.6 1138.5,332.7 1147.1,330.6" fill="#d81e78" stroke="#2a1216" stroke-width="2.8" stroke-linejoin="miter"/>
<polygon points="1154.1,349.8 1158.6,357.4 1167.4,358.5 1161.6,365.1 1163.3,373.8 1155.2,370.3 1147.4,374.6 1148.2,365.8 1141.8,359.8 1150.4,357.8" fill="#d81e78" stroke="#2a1216" stroke-width="2.8" stroke-linejoin="miter"/>
<rect x="1117.85" y="366.0" width="13.5" height="17" fill="#f7dc1a" stroke="#231815" stroke-width="2.3" transform="rotate(-18 1124.6 374.5)"/>
<rect x="1109.55" y="394.2" width="13.5" height="17" fill="#f7dc1a" stroke="#231815" stroke-width="2.3" transform="rotate(-18 1116.3 402.7)"/>
<rect x="1130.95" y="388.7" width="13.5" height="17" fill="#f7dc1a" stroke="#231815" stroke-width="2.3" transform="rotate(-18 1137.7 397.2)"/>
<rect x="1151.85" y="382.4" width="13.5" height="17" fill="#f7dc1a" stroke="#231815" stroke-width="2.3" transform="rotate(-18 1158.6 390.9)"/>
<rect x="1170.75" y="374.3" width="13.5" height="17" fill="#f7dc1a" stroke="#231815" stroke-width="2.3" transform="rotate(-18 1177.5 382.8)"/>
<path d="M1064.6,371.0L1065.4,371.3L1066.5,371.8L1067.8,372.3L1069.3,372.9L1070.8,373.5L1072.3,374.2L1073.7,374.9L1075.0,375.5L1076.2,376.1L1077.3,376.8L1078.5,377.4L1079.6,378.1L1080.6,378.8L1081.5,379.5L1082.4,380.2L1083.0,381.0L1083.5,381.8L1084.0,382.7L1084.3,383.7L1084.6,384.6L1084.7,385.6L1084.6,386.5L1084.4,387.3L1084.0,388.0L1083.3,388.6L1082.3,389.1L1081.1,389.5L1079.7,389.8L1078.3,390.2L1077.0,390.6L1075.9,391.0L1075.0,391.5L1074.4,392.1L1073.9,392.9L1073.5,393.7L1073.2,394.5L1073.0,395.3L1072.8,396.0L1072.6,396.6L1072.5,397.0" fill="none" stroke="#231815" stroke-width="3.2" stroke-linecap="round"/>
<path d="M1102.0,431.0L1102.8,430.7L1103.8,430.3L1104.9,429.7L1106.2,429.2L1107.7,428.6L1109.1,428.0L1110.6,427.5L1112.0,427.0L1113.5,426.5L1115.0,426.0L1116.7,425.4L1118.3,424.9L1119.9,424.4L1121.4,424.1L1122.8,423.9L1124.0,424.0L1125.0,424.3L1125.9,424.8L1126.6,425.5L1127.3,426.2L1127.8,427.1L1128.3,428.1L1128.7,429.0L1129.0,430.0L1129.2,431.0L1129.2,432.2L1129.2,433.6L1129.1,434.9L1128.9,436.2L1128.7,437.3L1128.6,438.3L1128.5,439.0" fill="none" stroke="#231815" stroke-width="3.2" stroke-linecap="round"/>
<path d="M1163.0,435.0L1163.4,433.8L1163.9,432.1L1164.4,430.1L1165.1,427.9L1165.8,425.7L1166.5,423.5L1167.2,421.6L1168.0,420.0L1168.8,418.7L1169.6,417.4L1170.5,416.3L1171.4,415.3L1172.3,414.5L1173.2,413.8L1174.1,413.3L1175.0,413.0L1175.9,413.0L1176.7,413.2L1177.6,413.7L1178.4,414.2L1179.3,414.9L1180.2,415.7L1181.1,416.4L1182.0,417.0L1183.0,417.6L1184.1,418.3L1185.3,419.0L1186.4,419.8L1187.5,420.4L1188.5,421.1L1189.4,421.6L1190.0,422.0" fill="none" stroke="#231815" stroke-width="3.2" stroke-linecap="round"/>
<circle cx="1064.6" cy="366.4" r="7.0" fill="#f9b42d" stroke="#231815" stroke-width="1.5"/>
<circle cx="1073.5" cy="402.2" r="7.0" fill="#f9b42d" stroke="#231815" stroke-width="1.5"/>
<circle cx="1096.9" cy="430.4" r="7.0" fill="#f9b42d" stroke="#231815" stroke-width="1.5"/>
<circle cx="1132.2" cy="443.8" r="7.0" fill="#f9b42d" stroke="#231815" stroke-width="1.5"/>
<circle cx="1160.4" cy="440" r="7.0" fill="#f9b42d" stroke="#231815" stroke-width="1.5"/>
<circle cx="1193.1" cy="421.8" r="7.0" fill="#f9b42d" stroke="#231815" stroke-width="1.5"/>
<circle cx="711.2" cy="631.3" r="63.5" fill="#f4d8c1"/>
<circle cx="711.2" cy="631.3" r="55.3" fill="none" stroke="#73645c" stroke-width="7" stroke-dasharray="4.9 2.049" transform="rotate(-2.8 711.2 631.3)"/>
<g><circle cx="773.3" cy="631.3" r="4.0" fill="#98703f" stroke="#5c4427" stroke-width="1.1"/><circle cx="772.8" cy="639.1" r="4.0" fill="#98703f" stroke="#5c4427" stroke-width="1.1"/><circle cx="771.3" cy="646.7" r="4.0" fill="#98703f" stroke="#5c4427" stroke-width="1.1"/><circle cx="768.9" cy="654.2" r="4.0" fill="#98703f" stroke="#5c4427" stroke-width="1.1"/><circle cx="765.6" cy="661.2" r="4.0" fill="#98703f" stroke="#5c4427" stroke-width="1.1"/><circle cx="761.4" cy="667.8" r="4.0" fill="#98703f" stroke="#5c4427" stroke-width="1.1"/><circle cx="756.5" cy="673.8" r="4.0" fill="#98703f" stroke="#5c4427" stroke-width="1.1"/><circle cx="750.8" cy="679.1" r="4.0" fill="#98703f" stroke="#5c4427" stroke-width="1.1"/><circle cx="744.5" cy="683.7" r="4.0" fill="#98703f" stroke="#5c4427" stroke-width="1.1"/><circle cx="737.6" cy="687.5" r="4.0" fill="#98703f" stroke="#5c4427" stroke-width="1.1"/><circle cx="730.4" cy="690.4" r="4.0" fill="#98703f" stroke="#5c4427" stroke-width="1.1"/><circle cx="722.8" cy="692.3" r="4.0" fill="#98703f" stroke="#5c4427" stroke-width="1.1"/><circle cx="715.1" cy="693.3" r="4.0" fill="#98703f" stroke="#5c4427" stroke-width="1.1"/><circle cx="707.3" cy="693.3" r="4.0" fill="#98703f" stroke="#5c4427" stroke-width="1.1"/><circle cx="699.6" cy="692.3" r="4.0" fill="#98703f" stroke="#5c4427" stroke-width="1.1"/><circle cx="692.0" cy="690.4" r="4.0" fill="#98703f" stroke="#5c4427" stroke-width="1.1"/><circle cx="684.8" cy="687.5" r="4.0" fill="#98703f" stroke="#5c4427" stroke-width="1.1"/><circle cx="677.9" cy="683.7" r="4.0" fill="#98703f" stroke="#5c4427" stroke-width="1.1"/><circle cx="671.6" cy="679.1" r="4.0" fill="#98703f" stroke="#5c4427" stroke-width="1.1"/><circle cx="665.9" cy="673.8" r="4.0" fill="#98703f" stroke="#5c4427" stroke-width="1.1"/><circle cx="661.0" cy="667.8" r="4.0" fill="#98703f" stroke="#5c4427" stroke-width="1.1"/><circle cx="656.8" cy="661.2" r="4.0" fill="#98703f" stroke="#5c4427" stroke-width="1.1"/><circle cx="653.5" cy="654.2" r="4.0" fill="#98703f" stroke="#5c4427" stroke-width="1.1"/><circle cx="651.1" cy="646.7" r="4.0" fill="#98703f" stroke="#5c4427" stroke-width="1.1"/><circle cx="649.6" cy="639.1" r="4.0" fill="#98703f" stroke="#5c4427" stroke-width="1.1"/><circle cx="649.1" cy="631.3" r="4.0" fill="#98703f" stroke="#5c4427" stroke-width="1.1"/><circle cx="649.6" cy="623.5" r="4.0" fill="#98703f" stroke="#5c4427" stroke-width="1.1"/><circle cx="651.1" cy="615.9" r="4.0" fill="#98703f" stroke="#5c4427" stroke-width="1.1"/><circle cx="653.5" cy="608.4" r="4.0" fill="#98703f" stroke="#5c4427" stroke-width="1.1"/><circle cx="656.8" cy="601.4" r="4.0" fill="#98703f" stroke="#5c4427" stroke-width="1.1"/><circle cx="661.0" cy="594.8" r="4.0" fill="#98703f" stroke="#5c4427" stroke-width="1.1"/><circle cx="665.9" cy="588.8" r="4.0" fill="#98703f" stroke="#5c4427" stroke-width="1.1"/><circle cx="671.6" cy="583.5" r="4.0" fill="#98703f" stroke="#5c4427" stroke-width="1.1"/><circle cx="677.9" cy="578.9" r="4.0" fill="#98703f" stroke="#5c4427" stroke-width="1.1"/><circle cx="684.8" cy="575.1" r="4.0" fill="#98703f" stroke="#5c4427" stroke-width="1.1"/><circle cx="692.0" cy="572.2" r="4.0" fill="#98703f" stroke="#5c4427" stroke-width="1.1"/><circle cx="699.6" cy="570.3" r="4.0" fill="#98703f" stroke="#5c4427" stroke-width="1.1"/><circle cx="707.3" cy="569.3" r="4.0" fill="#98703f" stroke="#5c4427" stroke-width="1.1"/><circle cx="715.1" cy="569.3" r="4.0" fill="#98703f" stroke="#5c4427" stroke-width="1.1"/><circle cx="722.8" cy="570.3" r="4.0" fill="#98703f" stroke="#5c4427" stroke-width="1.1"/><circle cx="730.4" cy="572.2" r="4.0" fill="#98703f" stroke="#5c4427" stroke-width="1.1"/><circle cx="737.6" cy="575.1" r="4.0" fill="#98703f" stroke="#5c4427" stroke-width="1.1"/><circle cx="744.5" cy="578.9" r="4.0" fill="#98703f" stroke="#5c4427" stroke-width="1.1"/><circle cx="750.8" cy="583.5" r="4.0" fill="#98703f" stroke="#5c4427" stroke-width="1.1"/><circle cx="756.5" cy="588.8" r="4.0" fill="#98703f" stroke="#5c4427" stroke-width="1.1"/><circle cx="761.4" cy="594.8" r="4.0" fill="#98703f" stroke="#5c4427" stroke-width="1.1"/><circle cx="765.6" cy="601.4" r="4.0" fill="#98703f" stroke="#5c4427" stroke-width="1.1"/><circle cx="768.9" cy="608.4" r="4.0" fill="#98703f" stroke="#5c4427" stroke-width="1.1"/><circle cx="771.3" cy="615.9" r="4.0" fill="#98703f" stroke="#5c4427" stroke-width="1.1"/><circle cx="772.8" cy="623.5" r="4.0" fill="#98703f" stroke="#5c4427" stroke-width="1.1"/></g>
<polygon points="683.0,595.8 684.2,604.6 691.9,609.0 683.9,612.8 682.1,621.5 676.0,615.1 667.2,616.0 671.4,608.3 667.8,600.2 676.5,601.8" fill="#d81e78" stroke="#2a1216" stroke-width="2.8" stroke-linejoin="miter"/>
<polygon points="708.7,587.5 709.9,596.3 717.6,600.7 709.6,604.5 707.8,613.2 701.7,606.8 692.9,607.7 697.1,600.0 693.5,591.9 702.2,593.5" fill="#d81e78" stroke="#2a1216" stroke-width="2.8" stroke-linejoin="miter"/>
<polygon points="735.9,587.5 737.1,596.3 744.8,600.7 736.8,604.5 735.0,613.2 728.9,606.8 720.1,607.7 724.3,600.0 720.7,591.9 729.4,593.5" fill="#d81e78" stroke="#2a1216" stroke-width="2.8" stroke-linejoin="miter"/>
<polygon points="700.7,616.0 701.9,624.8 709.6,629.2 701.6,633.0 699.8,641.7 693.7,635.3 684.9,636.2 689.1,628.5 685.5,620.4 694.2,622.0" fill="#d81e78" stroke="#2a1216" stroke-width="2.8" stroke-linejoin="miter"/>
<polygon points="732.1,616.0 733.3,624.8 741.0,629.2 733.0,633.0 731.2,641.7 725.1,635.3 716.3,636.2 720.5,628.5 716.9,620.4 725.6,622.0" fill="#d81e78" stroke="#2a1216" stroke-width="2.8" stroke-linejoin="miter"/>
<polygon points="755.3,628.8 756.2,637.6 763.7,642.2 755.6,645.8 753.5,654.4 747.6,647.8 738.8,648.5 743.2,640.8 739.9,632.6 748.5,634.5" fill="#d81e78" stroke="#2a1216" stroke-width="2.8" stroke-linejoin="miter"/>
<polygon points="709.5,644.2 710.7,653.0 718.4,657.4 710.4,661.2 708.6,669.9 702.5,663.5 693.7,664.4 697.9,656.7 694.3,648.6 703.0,650.2" fill="#d81e78" stroke="#2a1216" stroke-width="2.8" stroke-linejoin="miter"/>
<polygon points="735.2,647.5 736.4,656.3 744.1,660.7 736.1,664.5 734.3,673.2 728.2,666.8 719.4,667.7 723.6,660.0 720.0,651.9 728.7,653.5" fill="#d81e78" stroke="#2a1216" stroke-width="2.8" stroke-linejoin="miter"/>
<rect x="674.95" y="648.9" width="13.5" height="17" fill="#f7dc1a" stroke="#231815" stroke-width="2.3" transform="rotate(-3 681.7 657.4)"/>
<path d="M663.0,575.0L663.7,574.8L664.7,574.4L665.9,574.0L667.2,573.6L668.5,573.2L669.8,572.9L671.0,572.8L672.0,573.0L672.8,573.5L673.5,574.3L674.1,575.2L674.7,576.3L675.2,577.4L675.8,578.5L676.4,579.4L677.0,580.0L677.7,580.5L678.5,581.0L679.4,581.3L680.2,581.6L681.0,581.8L681.8,581.7L682.4,581.5L683.0,581.0L683.4,580.2L683.7,579.0L684.0,577.6L684.1,576.1L684.3,574.4L684.5,572.8L684.7,571.3L685.0,570.0L685.4,568.8L686.0,567.6L686.5,566.4L687.1,565.3L687.7,564.3L688.2,563.4L688.7,562.6L689.0,562.0" fill="none" stroke="#231815" stroke-width="3.2" stroke-linecap="round"/>
<path d="M720.0,560.0L720.4,560.4L721.0,561.0L721.7,561.7L722.4,562.4L723.2,563.3L723.9,564.1L724.5,565.1L725.0,566.0L725.3,567.0L725.4,568.2L725.4,569.4L725.4,570.6L725.4,571.9L725.4,573.0L725.6,574.1L726.0,575.0L726.6,575.8L727.3,576.5L728.1,577.2L729.0,577.8L730.0,578.3L731.0,578.7L732.0,578.9L733.0,579.0L734.0,578.9L735.2,578.5L736.4,578.0L737.6,577.4L738.8,576.7L739.9,576.0L741.0,575.5L742.0,575.0L742.9,574.6L743.9,574.3L744.7,574.0L745.6,573.8L746.3,573.5L747.0,573.3L747.6,573.1L748.0,573.0" fill="none" stroke="#231815" stroke-width="3.2" stroke-linecap="round"/>
<path d="M626.0,625.0L626.8,625.2L627.8,625.5L629.1,625.9L630.4,626.3L631.9,626.7L633.3,627.2L634.7,627.6L636.0,628.0L637.2,628.3L638.5,628.7L639.7,628.9L640.9,629.2L642.1,629.6L643.2,630.0L644.2,630.4L645.0,631.0L645.7,631.7L646.4,632.5L647.0,633.5L647.6,634.4L647.9,635.4L648.2,636.4L648.2,637.2L648.0,638.0L647.5,638.6L646.7,639.2L645.6,639.6L644.4,640.1L643.2,640.5L642.0,640.9L640.9,641.4L640.0,642.0L639.3,642.7L638.6,643.5L638.0,644.4L637.5,645.2L637.0,646.1L636.6,646.9L636.3,647.5L636.0,648.0" fill="none" stroke="#231815" stroke-width="3.2" stroke-linecap="round"/>
<circle cx="1054.5" cy="613.2" r="63.5" fill="#f4d8c1"/>
<circle cx="1054.5" cy="613.2" r="55.3" fill="none" stroke="#73645c" stroke-width="7" stroke-dasharray="4.9 2.049" transform="rotate(-2.8 1054.5 613.2)"/>
<g><circle cx="1116.6" cy="613.2" r="4.0" fill="#98703f" stroke="#5c4427" stroke-width="1.1"/><circle cx="1116.1" cy="621.0" r="4.0" fill="#98703f" stroke="#5c4427" stroke-width="1.1"/><circle cx="1114.6" cy="628.6" r="4.0" fill="#98703f" stroke="#5c4427" stroke-width="1.1"/><circle cx="1112.2" cy="636.1" r="4.0" fill="#98703f" stroke="#5c4427" stroke-width="1.1"/><circle cx="1108.9" cy="643.1" r="4.0" fill="#98703f" stroke="#5c4427" stroke-width="1.1"/><circle cx="1104.7" cy="649.7" r="4.0" fill="#98703f" stroke="#5c4427" stroke-width="1.1"/><circle cx="1099.8" cy="655.7" r="4.0" fill="#98703f" stroke="#5c4427" stroke-width="1.1"/><circle cx="1094.1" cy="661.0" r="4.0" fill="#98703f" stroke="#5c4427" stroke-width="1.1"/><circle cx="1087.8" cy="665.6" r="4.0" fill="#98703f" stroke="#5c4427" stroke-width="1.1"/><circle cx="1080.9" cy="669.4" r="4.0" fill="#98703f" stroke="#5c4427" stroke-width="1.1"/><circle cx="1073.7" cy="672.3" r="4.0" fill="#98703f" stroke="#5c4427" stroke-width="1.1"/><circle cx="1066.1" cy="674.2" r="4.0" fill="#98703f" stroke="#5c4427" stroke-width="1.1"/><circle cx="1058.4" cy="675.2" r="4.0" fill="#98703f" stroke="#5c4427" stroke-width="1.1"/><circle cx="1050.6" cy="675.2" r="4.0" fill="#98703f" stroke="#5c4427" stroke-width="1.1"/><circle cx="1042.9" cy="674.2" r="4.0" fill="#98703f" stroke="#5c4427" stroke-width="1.1"/><circle cx="1035.3" cy="672.3" r="4.0" fill="#98703f" stroke="#5c4427" stroke-width="1.1"/><circle cx="1028.1" cy="669.4" r="4.0" fill="#98703f" stroke="#5c4427" stroke-width="1.1"/><circle cx="1021.2" cy="665.6" r="4.0" fill="#98703f" stroke="#5c4427" stroke-width="1.1"/><circle cx="1014.9" cy="661.0" r="4.0" fill="#98703f" stroke="#5c4427" stroke-width="1.1"/><circle cx="1009.2" cy="655.7" r="4.0" fill="#98703f" stroke="#5c4427" stroke-width="1.1"/><circle cx="1004.3" cy="649.7" r="4.0" fill="#98703f" stroke="#5c4427" stroke-width="1.1"/><circle cx="1000.1" cy="643.1" r="4.0" fill="#98703f" stroke="#5c4427" stroke-width="1.1"/><circle cx="996.8" cy="636.1" r="4.0" fill="#98703f" stroke="#5c4427" stroke-width="1.1"/><circle cx="994.4" cy="628.6" r="4.0" fill="#98703f" stroke="#5c4427" stroke-width="1.1"/><circle cx="992.9" cy="621.0" r="4.0" fill="#98703f" stroke="#5c4427" stroke-width="1.1"/><circle cx="992.4" cy="613.2" r="4.0" fill="#98703f" stroke="#5c4427" stroke-width="1.1"/><circle cx="992.9" cy="605.4" r="4.0" fill="#98703f" stroke="#5c4427" stroke-width="1.1"/><circle cx="994.4" cy="597.8" r="4.0" fill="#98703f" stroke="#5c4427" stroke-width="1.1"/><circle cx="996.8" cy="590.3" r="4.0" fill="#98703f" stroke="#5c4427" stroke-width="1.1"/><circle cx="1000.1" cy="583.3" r="4.0" fill="#98703f" stroke="#5c4427" stroke-width="1.1"/><circle cx="1004.3" cy="576.7" r="4.0" fill="#98703f" stroke="#5c4427" stroke-width="1.1"/><circle cx="1009.2" cy="570.7" r="4.0" fill="#98703f" stroke="#5c4427" stroke-width="1.1"/><circle cx="1014.9" cy="565.4" r="4.0" fill="#98703f" stroke="#5c4427" stroke-width="1.1"/><circle cx="1021.2" cy="560.8" r="4.0" fill="#98703f" stroke="#5c4427" stroke-width="1.1"/><circle cx="1028.1" cy="557.0" r="4.0" fill="#98703f" stroke="#5c4427" stroke-width="1.1"/><circle cx="1035.3" cy="554.1" r="4.0" fill="#98703f" stroke="#5c4427" stroke-width="1.1"/><circle cx="1042.9" cy="552.2" r="4.0" fill="#98703f" stroke="#5c4427" stroke-width="1.1"/><circle cx="1050.6" cy="551.2" r="4.0" fill="#98703f" stroke="#5c4427" stroke-width="1.1"/><circle cx="1058.4" cy="551.2" r="4.0" fill="#98703f" stroke="#5c4427" stroke-width="1.1"/><circle cx="1066.1" cy="552.2" r="4.0" fill="#98703f" stroke="#5c4427" stroke-width="1.1"/><circle cx="1073.7" cy="554.1" r="4.0" fill="#98703f" stroke="#5c4427" stroke-width="1.1"/><circle cx="1080.9" cy="557.0" r="4.0" fill="#98703f" stroke="#5c4427" stroke-width="1.1"/><circle cx="1087.8" cy="560.8" r="4.0" fill="#98703f" stroke="#5c4427" stroke-width="1.1"/><circle cx="1094.1" cy="565.4" r="4.0" fill="#98703f" stroke="#5c4427" stroke-width="1.1"/><circle cx="1099.8" cy="570.7" r="4.0" fill="#98703f" stroke="#5c4427" stroke-width="1.1"/><circle cx="1104.7" cy="576.7" r="4.0" fill="#98703f" stroke="#5c4427" stroke-width="1.1"/><circle cx="1108.9" cy="583.3" r="4.0" fill="#98703f" stroke="#5c4427" stroke-width="1.1"/><circle cx="1112.2" cy="590.3" r="4.0" fill="#98703f" stroke="#5c4427" stroke-width="1.1"/><circle cx="1114.6" cy="597.8" r="4.0" fill="#98703f" stroke="#5c4427" stroke-width="1.1"/><circle cx="1116.1" cy="605.4" r="4.0" fill="#98703f" stroke="#5c4427" stroke-width="1.1"/></g>
<polygon points="1039.1,570.6 1037.9,579.3 1044.0,585.7 1035.3,587.2 1031.2,595.0 1027.1,587.2 1018.4,585.7 1024.5,579.3 1023.3,570.6 1031.2,574.5" fill="#d81e78" stroke="#2a1216" stroke-width="2.8" stroke-linejoin="miter"/>
<polygon points="1067.3,570.1 1066.1,578.8 1072.2,585.2 1063.5,586.7 1059.4,594.5 1055.3,586.7 1046.6,585.2 1052.7,578.8 1051.5,570.1 1059.4,574.0" fill="#d81e78" stroke="#2a1216" stroke-width="2.8" stroke-linejoin="miter"/>
<polygon points="1093.3,579.3 1091.4,587.9 1097.1,594.7 1088.3,595.6 1083.7,603.1 1080.1,595.0 1071.5,592.9 1078.1,587.0 1077.4,578.2 1085.1,582.6" fill="#d81e78" stroke="#2a1216" stroke-width="2.8" stroke-linejoin="miter"/>
<polygon points="1079.4,604.7 1078.2,613.4 1084.3,619.8 1075.6,621.3 1071.5,629.1 1067.4,621.3 1058.7,619.8 1064.8,613.4 1063.6,604.7 1071.5,608.6" fill="#d81e78" stroke="#2a1216" stroke-width="2.8" stroke-linejoin="miter"/>
<rect x="1033.25" y="600.0" width="13.5" height="17" fill="#f7dc1a" stroke="#231815" stroke-width="2.3" transform="rotate(10 1040 608.5)"/>
<rect x="1011.05" y="620.2" width="13.5" height="17" fill="#f7dc1a" stroke="#231815" stroke-width="2.3" transform="rotate(12 1017.8 628.7)"/>
<rect x="1031.45" y="625.2" width="13.5" height="17" fill="#f7dc1a" stroke="#231815" stroke-width="2.3" transform="rotate(12 1038.2 633.7)"/>
<rect x="1052.65" y="631.5" width="13.5" height="17" fill="#f7dc1a" stroke="#231815" stroke-width="2.3" transform="rotate(12 1059.4 640)"/>
<rect x="1073.05" y="635.3" width="13.5" height="17" fill="#f7dc1a" stroke="#231815" stroke-width="2.3" transform="rotate(12 1079.8 643.8)"/>
<path d="M1028.0,540.0L1028.6,540.0L1029.5,540.0L1030.6,539.9L1031.8,539.9L1032.9,539.9L1034.1,540.1L1035.1,540.4L1036.0,541.0L1036.7,541.9L1037.2,543.0L1037.7,544.4L1038.1,545.9L1038.5,547.4L1039.0,548.8L1039.4,550.0L1040.0,551.0L1040.6,551.8L1041.3,552.5L1042.1,553.0L1042.8,553.5L1043.6,553.8L1044.4,554.0L1045.2,554.1L1046.0,554.0L1046.8,553.7L1047.7,553.2L1048.6,552.5L1049.6,551.7L1050.5,550.8L1051.4,549.9L1052.2,548.9L1053.0,548.0L1053.7,547.1L1054.4,546.0L1055.0,544.9L1055.6,543.8L1056.1,542.6L1056.7,541.6L1057.3,540.7L1058.0,540.0L1058.7,539.4L1059.6,539.0L1060.4,538.7L1061.3,538.5L1062.1,538.3L1062.9,538.2L1063.5,538.1L1064.0,538.0" fill="none" stroke="#231815" stroke-width="3.2" stroke-linecap="round"/>
<path d="M968.0,557.0L968.7,557.0L969.7,557.0L970.8,557.0L972.1,557.1L973.4,557.1L974.7,557.3L975.9,557.6L977.0,558.0L978.0,558.6L978.8,559.5L979.7,560.4L980.5,561.5L981.3,562.6L982.2,563.5L983.0,564.4L984.0,565.0L985.1,565.4L986.3,565.7L987.6,565.9L988.9,565.9L990.2,566.0L991.3,566.0L992.3,566.0L993.0,566.0" fill="none" stroke="#231815" stroke-width="3.2" stroke-linecap="round"/>
<path d="M997.0,568.0L996.7,568.7L996.1,569.6L995.5,570.6L994.9,571.8L994.2,573.1L993.7,574.4L993.2,575.7L993.0,577.0L993.0,578.3L993.1,579.7L993.3,581.2L993.6,582.7L993.9,584.2L994.3,585.6L994.7,586.9L995.0,588.0L995.4,589.0L996.0,590.0L996.6,591.0L997.2,591.8L997.8,592.6L998.1,593.2L998.2,593.7L998.0,594.0L997.4,594.1L996.4,594.0L995.1,593.7L993.7,593.2L992.2,592.8L990.7,592.4L989.2,592.1L988.0,592.0L986.9,592.0L985.8,592.1L984.7,592.3L983.6,592.6L982.6,592.9L981.7,593.2L980.8,593.6L980.0,594.0L979.3,594.5L978.6,595.2L978.0,595.9L977.5,596.6L977.0,597.4L976.6,598.0L976.3,598.6L976.0,599.0" fill="none" stroke="#231815" stroke-width="3.2" stroke-linecap="round"/>
<path d="M983.0,633.0L983.5,633.6L984.1,634.4L984.9,635.3L985.8,636.3L986.7,637.4L987.7,638.4L988.8,639.3L990.0,640.0L991.3,640.5L992.9,640.9L994.6,641.2L996.3,641.4L998.0,641.7L999.6,642.0L1000.9,642.4L1002.0,643.0L1002.8,643.8L1003.4,644.7L1003.9,645.7L1004.2,646.8L1004.3,647.9L1004.4,649.0L1004.2,650.1L1004.0,651.0L1003.5,651.9L1002.7,652.7L1001.7,653.4L1000.6,654.2L999.4,654.9L998.4,655.6L997.6,656.3L997.0,657.0L996.7,657.7L996.7,658.4L996.8,659.2L997.1,659.9L997.3,660.5L997.6,661.1L997.9,661.6L998.0,662.0" fill="none" stroke="#231815" stroke-width="3.2" stroke-linecap="round"/>
<path d="M985.0,550.0L985.4,550.5L985.9,551.1L986.6,551.9L987.2,552.8L988.0,553.6L988.7,554.5L989.4,555.3L990.0,556.0L990.6,556.6L991.2,557.2L991.7,557.8L992.3,558.4L992.8,558.9L993.3,559.3L993.7,559.7L994.0,560.0" fill="none" stroke="#231815" stroke-width="3.2" stroke-linecap="round"/>
<path d="M910.7,200.8L910.7,199.8L910.8,198.5L910.9,196.9L911.0,195.2L911.0,193.4L910.9,191.5L910.8,189.7L910.5,188.0L910.1,186.4L909.5,184.7L908.9,183.1L908.2,181.4L907.4,179.7L906.6,178.1L905.7,176.5L904.9,175.0L904.0,173.5L903.1,172.1L902.1,170.6L901.1,169.2L900.0,167.9L899.0,166.5L898.0,165.2L897.0,164.0L896.1,162.8L895.1,161.7L894.3,160.5L893.4,159.5L892.4,158.4L891.5,157.4L890.4,156.4L889.3,155.4L888.1,154.4L886.7,153.4L885.4,152.4L883.9,151.5L882.5,150.5L881.0,149.6L879.5,148.8L878.0,148.0L876.5,147.3L875.1,146.6L873.6,145.9L872.2,145.3L870.7,144.7L869.1,144.2L867.5,143.7L865.8,143.3L864.1,142.9L862.3,142.6L860.6,142.3L858.8,142.0L856.8,141.8L854.8,141.6L852.5,141.5L850.0,141.3L847.1,141.2L843.6,141.1L839.9,141.0L836.0,141.0L832.3,141.0L828.9,141.0L826.1,141.0L824.0,141.0" fill="none" stroke="#221e1f" stroke-width="2.5" stroke-linecap="butt"/>
<polygon points="810.4,141.0 830.4,149.2 824.4,141.0 830.4,132.8" fill="#221e1f"/>
<circle cx="839.4" cy="141" r="8.2" fill="#c0677b" stroke="#231815" stroke-width="2"/>
<circle cx="865.8" cy="143.3" r="8.2" fill="#c0677b" stroke="#231815" stroke-width="2"/>
<circle cx="889.3" cy="155.4" r="8.2" fill="#c0677b" stroke="#231815" stroke-width="2"/>
<circle cx="904.9" cy="175" r="8.2" fill="#c0677b" stroke="#231815" stroke-width="2"/>
<line x1="960.3" y1="323" x2="960.3" y2="270" stroke="#221e1f" stroke-width="2.5"/>
<polygon points="960.3,257.5 952.0,277.5 960.3,271.5 968.5,277.5" fill="#221e1f"/>
<circle cx="960.3" cy="300.6" r="8.2" fill="#c0677b" stroke="#231815" stroke-width="2"/>
<path d="M666.4,148.0L665.3,147.9L663.8,147.7L661.9,147.4L659.9,147.2L657.9,147.0L655.8,146.7L653.8,146.6L652.0,146.5L650.4,146.5L648.8,146.5L647.3,146.5L645.9,146.6L644.4,146.8L642.9,146.9L641.5,147.1L640.0,147.4L638.5,147.7L637.1,148.0L635.6,148.3L634.2,148.7L632.7,149.1L631.2,149.7L629.6,150.3L628.0,151.0L626.2,151.9L624.1,153.1L621.9,154.4L619.8,155.7L617.7,157.0L615.8,158.3L614.2,159.3L613.0,160.0" fill="none" stroke="#221e1f" stroke-width="2.5" stroke-linecap="butt"/>
<polygon points="602.2,166.8 623.8,165.1 614.7,160.4 616.3,150.4" fill="#221e1f"/>
<circle cx="640" cy="147.4" r="8.2" fill="#c0677b" stroke="#231815" stroke-width="2"/>
<path d="M539.2,194.0L539.0,194.9L538.6,196.0L538.2,197.4L537.8,198.9L537.3,200.5L536.9,202.1L536.4,203.6L536.0,205.0L535.6,206.3L535.2,207.6L534.7,208.9L534.3,210.2L533.9,211.4L533.5,212.4L533.2,213.3L533.0,214.0" fill="none" stroke="#221e1f" stroke-width="2.5" stroke-linecap="butt"/>
<polygon points="530.4,224.0 543.8,207.0 534.3,210.5 528.0,202.5" fill="#221e1f"/>
<circle cx="539.2" cy="194" r="8.2" fill="#c0677b" stroke="#231815" stroke-width="2"/>
<path d="M584.6,228.6L586.2,227.8L588.2,226.8L590.6,225.6L593.4,224.2L596.3,222.8L599.2,221.4L602.2,220.1L605.0,219.0L607.8,218.0L610.6,217.0L613.5,216.1L616.4,215.2L619.3,214.3L622.3,213.6L625.2,213.0L628.0,212.5L630.9,212.1L633.8,211.8L636.7,211.6L639.6,211.5L642.4,211.5L645.1,211.6L647.6,211.9L650.0,212.2L652.2,212.7L654.2,213.3L656.1,214.0L657.9,214.8L659.5,215.7L661.1,216.7L662.6,217.8L664.0,219.0L665.3,220.3L666.5,221.8L667.6,223.4L668.6,225.1L669.6,226.8L670.4,228.5L671.2,230.3L672.0,232.0L672.7,233.8L673.4,235.8L674.0,237.8L674.5,239.8L675.0,241.7L675.4,243.5L675.7,244.9L676.0,246.0" fill="none" stroke="#221e1f" stroke-width="2.5" stroke-linecap="butt"/>
<polygon points="677.8,260.0 683.2,239.0 675.9,246.1 666.8,241.3" fill="#221e1f"/>
<circle cx="650" cy="212.2" r="8.2" fill="#c0677b" stroke="#231815" stroke-width="2"/>
<path d="M867.6,426.4L867.5,424.4L867.4,421.8L867.3,418.7L867.1,415.3L867.1,411.6L867.1,407.9L867.2,404.3L867.6,401.0L868.1,397.8L868.7,394.6L869.4,391.3L870.2,388.0L871.1,384.8L872.2,381.7L873.5,378.8L875.0,376.0L876.7,373.4L878.7,370.8L880.9,368.4L883.3,366.1L885.7,363.9L888.1,361.8L890.5,360.0L892.8,358.3L895.1,356.8L897.4,355.6L899.9,354.5L902.2,353.5L904.5,352.7L906.7,352.0L908.7,351.4L910.4,350.8L911.9,350.3L913.2,350.0L914.3,349.8L915.3,349.7L916.1,349.6L916.9,349.6L917.5,349.6L918.0,349.5" fill="none" stroke="#221e1f" stroke-width="2.5" stroke-linecap="butt"/>
<polygon points="930.5,347.0 909.2,343.1 916.8,349.9 912.7,359.2" fill="#221e1f"/>
<path d="M1027.5,350.8L1028.6,351.3L1030.0,351.9L1031.6,352.6L1033.5,353.4L1035.5,354.4L1037.5,355.5L1039.5,356.8L1041.4,358.3L1043.3,360.0L1045.2,361.8L1047.3,363.9L1049.3,366.0L1051.2,368.4L1053.1,370.8L1054.9,373.4L1056.5,376.0L1057.9,378.8L1059.3,381.8L1060.5,384.9L1061.6,388.1L1062.7,391.4L1063.6,394.7L1064.5,398.0L1065.3,401.2L1066.0,404.4L1066.6,407.7L1067.2,410.9L1067.6,414.2L1068.0,417.4L1068.4,420.6L1068.7,423.6L1069.0,426.4L1069.3,429.2L1069.5,431.9L1069.6,434.7L1069.7,437.3L1069.8,439.7L1069.9,441.8L1069.9,443.6L1070.0,445.0" fill="none" stroke="#221e1f" stroke-width="2.5" stroke-linecap="butt"/>
<polygon points="1070.4,459.0 1078.7,439.0 1070.4,445.0 1062.2,439.0" fill="#221e1f"/>
<line x1="759" y1="555.6" x2="655" y2="555.6" stroke="#221e1f" stroke-width="2.5"/>
<polygon points="641.9,555.6 661.9,563.9 655.9,555.6 661.9,547.4" fill="#221e1f"/>
<line x1="617.4" y1="562.9" x2="613.6" y2="642" stroke="#221e1f" stroke-width="2.5"/>
<polygon points="612.9,656.1 622.1,636.5 613.6,642.1 605.6,635.7" fill="#221e1f"/>
<polygon points="629.8,691.4 632.5,699.7 640.7,702.6 633.6,707.7 633.3,716.5 626.3,711.3 617.9,713.7 620.7,705.5 615.8,698.3 624.5,698.3" fill="#d81e78" stroke="#2a1216" stroke-width="2.8" stroke-linejoin="miter"/>
<path d="M1053.8,521.6L1052.8,522.3L1051.4,523.4L1049.7,524.6L1047.9,525.9L1046.0,527.3L1044.0,528.6L1041.9,529.9L1040.0,531.0L1038.1,532.0L1036.0,532.9L1033.9,533.7L1031.8,534.5L1029.7,535.3L1027.6,536.0L1025.5,536.7L1023.6,537.4L1021.7,538.0L1019.9,538.6L1018.2,539.1L1016.5,539.6L1014.8,540.1L1013.1,540.6L1011.5,541.0L1010.0,541.5L1008.5,541.9L1007.2,542.3L1005.9,542.7L1004.7,543.1L1003.5,543.5L1002.2,543.9L1000.8,544.3L999.2,544.8L997.5,545.3L995.8,545.9L994.0,546.5L992.1,547.1L990.1,547.7L988.1,548.3L986.0,548.9L983.8,549.5L981.6,550.1L979.2,550.6L976.8,551.2L974.4,551.7L971.9,552.2L969.3,552.7L966.6,553.1L963.9,553.5L961.1,553.8L958.3,554.0L955.4,554.1L952.5,554.3L949.4,554.3L946.4,554.4L943.2,554.5L940.0,554.6L936.5,554.7L932.6,554.8L928.6,554.9L924.5,555.0L920.6,555.1L917.1,555.2L914.2,555.2L912.0,555.3" fill="none" stroke="#221e1f" stroke-width="2.5" stroke-linecap="butt"/>
<polygon points="897.6,555.6 917.7,563.5 911.6,555.4 917.5,547.0" fill="#221e1f"/>
<circle cx="963.9" cy="555.6" r="7.0" fill="#f9b42d" stroke="#231815" stroke-width="1.5"/>
<circle cx="983.8" cy="547.5" r="7.0" fill="#f9b42d" stroke="#231815" stroke-width="1.5"/>
<circle cx="999.2" cy="544.8" r="7.0" fill="#f9b42d" stroke="#231815" stroke-width="1.5"/>
<circle cx="1023.6" cy="537.4" r="7.0" fill="#f9b42d" stroke="#231815" stroke-width="1.5"/>
<circle cx="1068.2" cy="537.4" r="7.0" fill="#f9b42d" stroke="#231815" stroke-width="1.5"/>
<circle cx="997.9" cy="563.9" r="7.0" fill="#f9b42d" stroke="#231815" stroke-width="1.5"/>
<circle cx="974.5" cy="602.2" r="7.0" fill="#f9b42d" stroke="#231815" stroke-width="1.5"/>
<circle cx="980.3" cy="628.1" r="7.0" fill="#f9b42d" stroke="#231815" stroke-width="1.5"/>
<circle cx="998.9" cy="665.9" r="7.0" fill="#f9b42d" stroke="#231815" stroke-width="1.5"/>
<circle cx="692.3" cy="557.1" r="7.0" fill="#f9b42d" stroke="#231815" stroke-width="1.5"/>
<circle cx="716.2" cy="555.6" r="7.0" fill="#f9b42d" stroke="#231815" stroke-width="1.5"/>
<circle cx="658.3" cy="573.7" r="7.0" fill="#f9b42d" stroke="#231815" stroke-width="1.5"/>
<circle cx="750.2" cy="572.5" r="7.0" fill="#f9b42d" stroke="#231815" stroke-width="1.5"/>
<circle cx="621.2" cy="620.9" r="7.0" fill="#f9b42d" stroke="#231815" stroke-width="1.5"/>
<circle cx="634.3" cy="653.1" r="7.0" fill="#f9b42d" stroke="#231815" stroke-width="1.5"/>
<text x="531.7" y="90.2" font-size="28" fill="#221e1f" stroke="#221e1f" stroke-width="0.3" >Endoplasmic reticulum</text>
<text x="1129.6" y="78.8" font-size="28.1" fill="#221e1f" stroke="#221e1f" stroke-width="0.3" >Cytoplasm</text>
<text x="868" y="130" font-size="20" fill="#221e1f" stroke="#221e1f" stroke-width="0.3" >ERG26</text>
<text x="901.5" y="156" font-size="20" fill="#221e1f" stroke="#221e1f" stroke-width="0.3" >ERG25</text>
<text x="920" y="183.5" font-size="20" fill="#221e1f" stroke="#221e1f" stroke-width="0.3" >ERG24</text>
<text x="801.5" y="171.5" font-size="20" fill="#221e1f" stroke="#221e1f" stroke-width="0.3" >ERG27</text>
<text x="671" y="152.5" font-size="25.5" fill="#221e1f" stroke="#221e1f" stroke-width="0.3" >Zymosterol</text>
<text x="829" y="223.5" font-size="25.5" fill="#221e1f" stroke="#221e1f" stroke-width="0.3" >4,4-dimethycholesta</text>
<text x="856.5" y="254" font-size="25.5" fill="#221e1f" stroke="#221e1f" stroke-width="0.3" >-8,14,24-trieno</text>
<text x="881" y="298" font-size="20" fill="#221e1f" stroke="#221e1f" stroke-width="0.3" >ERG11</text>
<text x="930" y="344" font-size="25.5" fill="#221e1f" stroke="#221e1f" stroke-width="0.3" >Lanosterol</text>
<text x="613.8" y="132" font-size="20" fill="#221e1f" stroke="#221e1f" stroke-width="0.3" >ERG2</text>
<text x="469.7" y="181" font-size="25.5" fill="#221e1f" stroke="#221e1f" stroke-width="0.3" >Zymosterol</text>
<text x="464.7" y="211.2" font-size="20" fill="#221e1f" stroke="#221e1f" stroke-width="0.3" >ERG3</text>
<text x="458.6" y="247.5" font-size="25.5" fill="#221e1f" stroke="#221e1f" stroke-width="0.3" >7-Dehydro</text>
<text x="448.5" y="278.2" font-size="25.5" fill="#221e1f" stroke="#221e1f" stroke-width="0.3" >desmosterol</text>
<text x="640" y="445.6" font-size="25.5" fill="#221e1f" stroke="#221e1f" stroke-width="0.3" >Squalene</text>
<text x="751.6" y="425" font-size="20" fill="#221e1f" stroke="#221e1f" stroke-width="0.3" >ERG1</text>
<text x="814" y="445.8" font-size="25.5" fill="#221e1f" stroke="#221e1f" stroke-width="0.3" >2,3-OxidoSqualene</text>
<text x="1019" y="484.6" font-size="25.5" fill="#221e1f" stroke="#221e1f" stroke-width="0.3" >4,4-dimethycholesta</text>
<text x="1048.5" y="515.6" font-size="25.5" fill="#221e1f" stroke="#221e1f" stroke-width="0.3" >-8,14,24-trieno</text>
<text x="766.5" y="563" font-size="25.5" fill="#221e1f" stroke="#221e1f" stroke-width="0.3" >Zymosterol</text>
<text x="771" y="690" font-size="28" fill="#221e1f" stroke="#221e1f" stroke-width="0.3" >Lipid bodies</text>
<text x="515" y="532" font-size="25.5" fill="#221e1f" stroke="#221e1f" stroke-width="0.3" >7-Dehydro</text>
<text x="505" y="562.5" font-size="25.5" fill="#221e1f" stroke="#221e1f" stroke-width="0.3" >desmosterol</text>
<text x="1001" y="414" font-size="20" fill="#1d9f55" font-weight="bold" stroke="#1d9f55" stroke-width="0.3" >ERG11</text>
<text x="981.5" y="509" font-size="20" fill="#1d9f55" font-weight="bold" stroke="#1d9f55" stroke-width="0.3" >ERG24</text>
<text x="950" y="526" font-size="20" fill="#1d9f55" font-weight="bold" stroke="#1d9f55" stroke-width="0.3" >ERG25</text>
<text x="898" y="543.5" font-size="20" fill="#1d9f55" font-weight="bold" stroke="#1d9f55" stroke-width="0.3" >ERG26</text>
<text x="914" y="582.5" font-size="20" fill="#1d9f55" font-weight="bold" stroke="#1d9f55" stroke-width="0.3" >ERG27</text>
<text x="649" y="539" font-size="20" fill="#1d9f55" font-weight="bold" stroke="#1d9f55" stroke-width="0.3" >ERG3</text>
<text x="715" y="539" font-size="20" fill="#1d9f55" font-weight="bold" stroke="#1d9f55" stroke-width="0.3" >ERG2</text>
<text x="631.3" y="196.2" font-size="20.3" fill="#1f9fda" font-weight="bold" stroke="#1f9fda" stroke-width="0.3" >DHCR24</text>
<text x="527.8" y="627.7" font-size="20.3" fill="#1f9fda" font-weight="bold" stroke="#1f9fda" stroke-width="0.3" >DHCR24</text>
<text x="653" y="287.8" font-size="25.5" fill="#dc2314" font-weight="bold" stroke="#e4402f" stroke-width="0.5">7-DHC</text>
<text x="566.5" y="687.8" font-size="25.5" fill="#dc2314" font-weight="bold" stroke="#e4402f" stroke-width="0.5">7-DHC</text>
<text x="851.2" y="399.3" font-size="20" fill="#221e1f" transform="rotate(-52 851.2 399.3)" stroke="#221e1f" stroke-width="0.3" >ERG7</text>
<text x="303.7" y="832.5" font-size="25.5" fill="#221e1f" text-anchor="middle" stroke="#221e1f" stroke-width="0.3" >Bright</text>
<text x="517" y="832.5" font-size="25.5" fill="#221e1f" text-anchor="middle" stroke="#221e1f" stroke-width="0.3" >GFP</text>
<text x="723" y="832.5" font-size="25.5" fill="#221e1f" text-anchor="middle" stroke="#221e1f" stroke-width="0.3" >RFP</text>
<text x="944" y="832.5" font-size="25.5" fill="#221e1f" text-anchor="middle" stroke="#221e1f" stroke-width="0.3" >CFP</text>
<text x="1157.7" y="832.5" font-size="25.5" fill="#221e1f" text-anchor="middle" stroke="#221e1f" stroke-width="0.3" >Merge</text>
<text x="10.2" y="920.5" font-size="25.4" fill="#221e1f" stroke="#221e1f" stroke-width="0.3" >GFP-Oleosin</text>
<text x="10.6" y="951.2" font-size="25.4" fill="#221e1f" stroke="#221e1f" stroke-width="0.3" >-RFP-CFP</text>
<text x="10.6" y="982" font-size="25.4" fill="#221e1f" stroke="#221e1f" stroke-width="0.3" >-PLN1</text>
<rect x="194" y="849.3" width="203.4" height="201.79999999999995" fill="#4c4949"/>
<g transform="translate(0 0)" filter="url(#bl1)"><circle cx="255.6" cy="944.6" r="22" fill="none" stroke="#686464" stroke-width="2.6"/><circle cx="255.6" cy="944.6" r="19" fill="none" stroke="#3f3c3c" stroke-width="1.6"/><circle cx="257" cy="946" r="11" fill="none" stroke="#686464" stroke-width="1.6" opacity="0.7"/><circle cx="316" cy="929.4" r="47.5" fill="#4a4747"/><circle cx="316" cy="929.4" r="47.5" fill="none" stroke="#686464" stroke-width="3"/><circle cx="316" cy="929.4" r="44.3" fill="none" stroke="#3f3c3c" stroke-width="2"/></g>
<g filter="url(#bl1)"><circle cx="296" cy="905" r="3" fill="#3c3939"/><circle cx="304" cy="912" r="3" fill="#3e3b3b"/><circle cx="312" cy="918" r="3" fill="#3c3939"/><circle cx="320" cy="906" r="3" fill="#403d3d"/><circle cx="293" cy="921" r="3" fill="#3e3b3b"/><circle cx="300" cy="929" r="3" fill="#615d5d"/><circle cx="308" cy="925" r="2.5" fill="#5e5a5a"/><circle cx="291" cy="936" r="3" fill="#5f5b5b"/><circle cx="318" cy="913" r="2.5" fill="#5d5959"/><circle cx="262" cy="941" r="4" fill="#3f3c3c"/><circle cx="262" cy="949" r="4" fill="#5e5a5a"/></g>
<rect x="313" y="1033.3" width="73.6" height="5.3" fill="#fff"/>
<text x="351.5" y="1023.2" font-size="25.5" fill="#fff" text-anchor="middle" stroke="#fff" stroke-width="0.3" >5μm</text>
<rect x="408.3" y="849.3" width="203.4" height="201.79999999999995" fill="#0f0f0f"/>
<g opacity="1.0"><g filter="url(#bl3)" opacity="0.6"><circle cx="472.1" cy="936.6" r="9.7" fill="#125a2b"/><circle cx="479.8" cy="938.7" r="9.7" fill="#125a2b"/><circle cx="475.6" cy="945.0" r="10.5" fill="#125a2b"/><circle cx="511.3" cy="912.7" r="12.1" fill="#125a2b"/><circle cx="532.7" cy="909.1" r="12.6" fill="#125a2b"/><circle cx="519.7" cy="925.3" r="12.6" fill="#125a2b"/><circle cx="523.2" cy="914.4" r="13.3" fill="#125a2b"/></g><g filter="url(#spk2)"><circle cx="472.1" cy="936.6" r="8.4" fill="#279650"/><circle cx="479.8" cy="938.7" r="8.4" fill="#279650"/><circle cx="475.6" cy="945.0" r="9.1" fill="#279650"/><circle cx="511.3" cy="912.7" r="10.5" fill="#279650"/><circle cx="532.7" cy="909.1" r="10.9" fill="#279650"/><circle cx="519.7" cy="925.3" r="10.9" fill="#279650"/><circle cx="523.2" cy="914.4" r="11.6" fill="#279650"/></g><g filter="url(#bl1)" opacity="0.4"><circle cx="471.4" cy="936.6" r="2.8" fill="#000"/><circle cx="480.1" cy="938.7" r="2.8" fill="#000"/><circle cx="475.6" cy="945.7" r="2.8" fill="#000"/><circle cx="511.3" cy="912.7" r="4.2" fill="#000"/><circle cx="532.7" cy="909.1" r="4.2" fill="#000"/><circle cx="519.7" cy="925.3" r="4.2" fill="#000"/><circle cx="523.2" cy="914.0" r="3.4" fill="#000"/></g></g>
<rect x="623.1" y="849.3" width="203.4" height="201.79999999999995" fill="#040202"/>
<g opacity="1.0"><g filter="url(#bl3)" opacity="0.6"><circle cx="689.0" cy="936.8" r="9.3" fill="#520d12"/><circle cx="696.4" cy="938.8" r="9.3" fill="#520d12"/><circle cx="692.4" cy="944.8" r="10.1" fill="#520d12"/><circle cx="727.3" cy="913.1" r="11.8" fill="#520d12"/><circle cx="748.2" cy="909.6" r="12.3" fill="#520d12"/><circle cx="735.5" cy="925.4" r="12.3" fill="#520d12"/><circle cx="739.0" cy="914.8" r="13.0" fill="#520d12"/></g><g filter="url(#spk)"><circle cx="689.0" cy="936.8" r="8.1" fill="#a8242a"/><circle cx="696.4" cy="938.8" r="8.1" fill="#a8242a"/><circle cx="692.4" cy="944.8" r="8.8" fill="#a8242a"/><circle cx="727.3" cy="913.1" r="10.2" fill="#a8242a"/><circle cx="748.2" cy="909.6" r="10.7" fill="#a8242a"/><circle cx="735.5" cy="925.4" r="10.7" fill="#a8242a"/><circle cx="739.0" cy="914.8" r="11.3" fill="#a8242a"/></g><g filter="url(#bl1)" opacity="0.5"><circle cx="688.4" cy="936.8" r="2.7" fill="#000"/><circle cx="696.7" cy="938.8" r="2.7" fill="#000"/><circle cx="692.4" cy="945.5" r="2.7" fill="#000"/><circle cx="727.3" cy="913.1" r="4.1" fill="#000"/><circle cx="748.2" cy="909.6" r="4.1" fill="#000"/><circle cx="735.5" cy="925.4" r="4.1" fill="#000"/><circle cx="739.0" cy="914.3" r="3.3" fill="#000"/></g></g>
<rect x="837.5" y="849.3" width="203.4" height="201.79999999999995" fill="#030303"/>
<g opacity="1.0"><g filter="url(#bl3)" opacity="0.6"><circle cx="905.0" cy="933.9" r="10.0" fill="#0e6268"/><circle cx="913.0" cy="936.1" r="10.0" fill="#0e6268"/><circle cx="908.6" cy="942.6" r="10.8" fill="#0e6268"/><circle cx="948.1" cy="908.1" r="11.8" fill="#0e6268"/><circle cx="969.0" cy="904.6" r="12.3" fill="#0e6268"/><circle cx="956.3" cy="920.4" r="12.3" fill="#0e6268"/><circle cx="959.8" cy="909.8" r="13.0" fill="#0e6268"/></g><g filter="url(#spk2)"><circle cx="905.0" cy="933.9" r="8.7" fill="#2bb5bb"/><circle cx="913.0" cy="936.1" r="8.7" fill="#2bb5bb"/><circle cx="908.6" cy="942.6" r="9.4" fill="#2bb5bb"/><circle cx="948.1" cy="908.1" r="10.2" fill="#2bb5bb"/><circle cx="969.0" cy="904.6" r="10.7" fill="#2bb5bb"/><circle cx="956.3" cy="920.4" r="10.7" fill="#2bb5bb"/><circle cx="959.8" cy="909.8" r="11.3" fill="#2bb5bb"/></g><g filter="url(#bl1)" opacity="0.4"><circle cx="904.2" cy="933.9" r="2.9" fill="#000"/><circle cx="913.2" cy="936.1" r="2.9" fill="#000"/><circle cx="908.6" cy="943.4" r="2.9" fill="#000"/><circle cx="948.1" cy="908.1" r="4.1" fill="#000"/><circle cx="969.0" cy="904.6" r="4.1" fill="#000"/><circle cx="956.3" cy="920.4" r="4.1" fill="#000"/><circle cx="959.8" cy="909.3" r="3.3" fill="#000"/></g></g>
<rect x="1052.5" y="849.3" width="203.4" height="201.79999999999995" fill="#262626"/>
<g transform="translate(859.5 -1.2)" filter="url(#bl1)"><circle cx="255.6" cy="946.5" r="24" fill="none" stroke="#3a3a3a" stroke-width="2.6"/><circle cx="255.6" cy="946.5" r="20.5" fill="none" stroke="#1b1b1b" stroke-width="2"/><circle cx="316" cy="929.4" r="47.5" fill="#242424"/><circle cx="316" cy="929.4" r="47.5" fill="none" stroke="#3d3d3d" stroke-width="3"/><circle cx="316" cy="929.4" r="44" fill="none" stroke="#191919" stroke-width="2.4"/></g>
<g opacity="0.95"><g filter="url(#bl3)" opacity="0.6"><circle cx="1120.4" cy="935.3" r="9.7" fill="#2a7477"/><circle cx="1128.1" cy="937.4" r="9.7" fill="#2a7477"/><circle cx="1123.9" cy="943.7" r="10.5" fill="#2a7477"/><circle cx="1158.3" cy="911.8" r="12.1" fill="#2a7477"/><circle cx="1179.7" cy="908.2" r="12.6" fill="#2a7477"/><circle cx="1166.7" cy="924.4" r="12.6" fill="#2a7477"/><circle cx="1170.2" cy="913.5" r="13.3" fill="#2a7477"/></g><g filter="url(#spk2)"><circle cx="1120.4" cy="935.3" r="8.4" fill="#80cdd0"/><circle cx="1128.1" cy="937.4" r="8.4" fill="#80cdd0"/><circle cx="1123.9" cy="943.7" r="9.1" fill="#80cdd0"/><circle cx="1158.3" cy="911.8" r="10.5" fill="#80cdd0"/><circle cx="1179.7" cy="908.2" r="10.9" fill="#80cdd0"/><circle cx="1166.7" cy="924.4" r="10.9" fill="#80cdd0"/><circle cx="1170.2" cy="913.5" r="11.6" fill="#80cdd0"/></g><g filter="url(#bl1)" opacity="0.4"><circle cx="1119.7" cy="935.3" r="2.8" fill="#a05a3a"/><circle cx="1128.4" cy="937.4" r="2.8" fill="#a05a3a"/><circle cx="1123.9" cy="944.4" r="2.8" fill="#a05a3a"/><circle cx="1158.3" cy="911.8" r="4.2" fill="#a05a3a"/><circle cx="1179.7" cy="908.2" r="4.2" fill="#a05a3a"/><circle cx="1166.7" cy="924.4" r="4.2" fill="#a05a3a"/><circle cx="1170.2" cy="913.1" r="3.4" fill="#a05a3a"/></g></g>
<g filter="url(#bl2)" opacity="0.55"><circle cx="1160" cy="917" r="3" fill="#b5652f"/><circle cx="1170" cy="909" r="3" fill="#c07a4a"/><circle cx="1166" cy="924" r="3" fill="#c06a5a"/><circle cx="1152" cy="922" r="4" fill="#5d7a30"/><circle cx="1124" cy="940" r="3" fill="#d9c9c9"/><circle cx="1176" cy="917" r="3" fill="#e0e0e0"/></g>
<text x="11.3" y="1085.9" font-size="25" fill="#221e1f">(</text>
<text x="0" y="0" font-size="23.5" fill="#221e1f" transform="translate(24.5 1084.6) scale(1.2 1)">C</text>
<text x="47.2" y="1085.9" font-size="25" fill="#221e1f">)</text>
<rect x="146.0" y="1254.8" width="37.6" height="280.6" fill="#b6cdb8" stroke="#1f1a17" stroke-width="2.3"/>
<rect x="183.6" y="1163.3" width="37.6" height="372.1" fill="#f2bdbd" stroke="#1f1a17" stroke-width="2.3"/>
<path d="M164.8,1252.1V1257.8M160.1,1252.1h9.4M160.1,1257.8h9.4" stroke="#1f1a17" stroke-width="2.2" fill="none"/>
<text x="164.8" y="1245.6" font-size="24" fill="#221e1f" text-anchor="middle" stroke="#221e1f" stroke-width="0.3" >c</text>
<path d="M202.4,1157.7V1169.9M197.7,1157.7h9.4M197.7,1169.9h9.4" stroke="#1f1a17" stroke-width="2.2" fill="none"/>
<text x="202.4" y="1151.2" font-size="24" fill="#221e1f" text-anchor="middle" stroke="#221e1f" stroke-width="0.3" >a</text>
<path d="M183.6,1535.4v9" stroke="#1f1a17" stroke-width="2.4" fill="none"/>
<rect x="269.3" y="1215.7" width="37.6" height="319.7" fill="#b6cdb8" stroke="#1f1a17" stroke-width="2.3"/>
<rect x="306.90000000000003" y="1322.2" width="37.6" height="213.2" fill="#f2bdbd" stroke="#1f1a17" stroke-width="2.3"/>
<path d="M288.1,1209.6V1223.2M283.4,1209.6h9.4M283.4,1223.2h9.4" stroke="#1f1a17" stroke-width="2.2" fill="none"/>
<text x="288.1" y="1203.1" font-size="24" fill="#221e1f" text-anchor="middle" stroke="#221e1f" stroke-width="0.3" >b</text>
<path d="M325.7,1317.0V1327.4M321.0,1317.0h9.4M321.0,1327.4h9.4" stroke="#1f1a17" stroke-width="2.2" fill="none"/>
<text x="325.7" y="1310.5" font-size="24" fill="#221e1f" text-anchor="middle" stroke="#221e1f" stroke-width="0.3" >b</text>
<path d="M306.9,1535.4v9" stroke="#1f1a17" stroke-width="2.4" fill="none"/>
<rect x="392.8" y="1208.8" width="37.6" height="326.6" fill="#b6cdb8" stroke="#1f1a17" stroke-width="2.3"/>
<rect x="430.40000000000003" y="1376.0" width="37.6" height="159.4" fill="#f2bdbd" stroke="#1f1a17" stroke-width="2.3"/>
<path d="M411.6,1205.8V1212.2M406.9,1205.8h9.4M406.9,1212.2h9.4" stroke="#1f1a17" stroke-width="2.2" fill="none"/>
<text x="411.6" y="1199.3" font-size="24" fill="#221e1f" text-anchor="middle" stroke="#221e1f" stroke-width="0.3" >b</text>
<path d="M449.2,1368.5V1383.5M444.5,1368.5h9.4M444.5,1383.5h9.4" stroke="#1f1a17" stroke-width="2.2" fill="none"/>
<text x="449.2" y="1362.0" font-size="24" fill="#221e1f" text-anchor="middle" stroke="#221e1f" stroke-width="0.3" >c</text>
<path d="M430.4,1535.4v9" stroke="#1f1a17" stroke-width="2.4" fill="none"/>
<rect x="516.4" y="1173.1" width="37.6" height="362.3" fill="#b6cdb8" stroke="#1f1a17" stroke-width="2.3"/>
<rect x="554.0" y="1524.6" width="37.6" height="10.8" fill="#f2bdbd" stroke="#1f1a17" stroke-width="2.3"/>
<path d="M535.2,1167.1V1181.1M530.5,1167.1h9.4M530.5,1181.1h9.4" stroke="#1f1a17" stroke-width="2.2" fill="none"/>
<text x="535.2" y="1160.6" font-size="24" fill="#221e1f" text-anchor="middle" stroke="#221e1f" stroke-width="0.3" >a</text>
<path d="M572.8,1519.6V1529.6M568.1,1519.6h9.4M568.1,1529.6h9.4" stroke="#1f1a17" stroke-width="2.2" fill="none"/>
<text x="572.8" y="1513.1" font-size="24" fill="#221e1f" text-anchor="middle" stroke="#221e1f" stroke-width="0.3" >d</text>
<path d="M554.0,1535.4v9" stroke="#1f1a17" stroke-width="2.4" fill="none"/>
<path d="M116.9,1138.8H121.9V1535.4H616.2V1139.5" fill="none" stroke="#1f1a17" stroke-width="2.6" stroke-linejoin="miter"/>
<text x="111.5" y="1541.1" font-size="24.3" fill="#221e1f" text-anchor="end" stroke="#221e1f" stroke-width="0.3" >0</text>
<text x="111.5" y="1488.2" font-size="24.3" fill="#221e1f" text-anchor="end" stroke="#221e1f" stroke-width="0.3" >100</text>
<text x="111.5" y="1435.3" font-size="24.3" fill="#221e1f" text-anchor="end" stroke="#221e1f" stroke-width="0.3" >200</text>
<text x="111.5" y="1382.4" font-size="24.3" fill="#221e1f" text-anchor="end" stroke="#221e1f" stroke-width="0.3" >300</text>
<text x="111.5" y="1329.5" font-size="24.3" fill="#221e1f" text-anchor="end" stroke="#221e1f" stroke-width="0.3" >400</text>
<text x="111.5" y="1276.6" font-size="24.3" fill="#221e1f" text-anchor="end" stroke="#221e1f" stroke-width="0.3" >500</text>
<text x="111.5" y="1223.7" font-size="24.3" fill="#221e1f" text-anchor="end" stroke="#221e1f" stroke-width="0.3" >600</text>
<text x="111.5" y="1170.8" font-size="24.3" fill="#221e1f" text-anchor="end" stroke="#221e1f" stroke-width="0.3" >700</text>
<text x="628.6" y="1540.2" font-size="24.3" fill="#221e1f" stroke="#221e1f" stroke-width="0.3" >0</text>
<text x="628.6" y="1490.8" font-size="24.3" fill="#221e1f" stroke="#221e1f" stroke-width="0.3" >100</text>
<text x="628.6" y="1441.3" font-size="24.3" fill="#221e1f" stroke="#221e1f" stroke-width="0.3" >200</text>
<text x="628.6" y="1391.9" font-size="24.3" fill="#221e1f" stroke="#221e1f" stroke-width="0.3" >300</text>
<text x="628.6" y="1342.5" font-size="24.3" fill="#221e1f" stroke="#221e1f" stroke-width="0.3" >400</text>
<text x="628.6" y="1293.0" font-size="24.3" fill="#221e1f" stroke="#221e1f" stroke-width="0.3" >500</text>
<text x="628.6" y="1243.6" font-size="24.3" fill="#221e1f" stroke="#221e1f" stroke-width="0.3" >600</text>
<text x="628.6" y="1194.2" font-size="24.3" fill="#221e1f" stroke="#221e1f" stroke-width="0.3" >700</text>
<text x="628.6" y="1144.8" font-size="24.3" fill="#221e1f" stroke="#221e1f" stroke-width="0.3" >800</text>
<path d="M121.9,1535.4h-7.6M121.9,1509.0h-4M121.9,1482.5h-7.6M121.9,1456.1h-4M121.9,1429.6h-7.6M121.9,1403.2h-4M121.9,1376.7h-7.6M121.9,1350.2h-4M121.9,1323.8h-7.6M121.9,1297.4h-4M121.9,1270.9h-7.6M121.9,1244.5h-4M121.9,1218.0h-7.6M121.9,1191.6h-4M121.9,1165.1h-7.6M616.2,1535.4h7.2M616.2,1510.7h4M616.2,1486.0h7.2M616.2,1461.3h4M616.2,1436.5h7.2M616.2,1411.8h4M616.2,1387.1h7.2M616.2,1362.4h4M616.2,1337.7h7.2M616.2,1313.0h4M616.2,1288.2h7.2M616.2,1263.5h4M616.2,1238.8h7.2M616.2,1214.1h4M616.2,1189.4h7.2M616.2,1164.7h4M616.2,1140.0h7.2" stroke="#1f1a17" stroke-width="2.4" fill="none"/>
<text x="190.2" y="1565.5" font-size="25" fill="#221e1f" text-anchor="middle" stroke="#221e1f" stroke-width="0.3" >XD6</text>
<text x="313.6" y="1565.5" font-size="25" fill="#221e1f" text-anchor="middle" stroke="#221e1f" stroke-width="0.3" >XD8</text>
<text x="437" y="1565.5" font-size="25" fill="#221e1f" text-anchor="middle" stroke="#221e1f" stroke-width="0.3" >XD9</text>
<text x="563.5" y="1565.5" font-size="25" fill="#221e1f" text-anchor="middle" stroke="#221e1f" stroke-width="0.3" >XD10</text>
<text x="48.2" y="1356" font-size="26.2" fill="#221e1f" text-anchor="middle" transform="rotate(-90 48.2 1356)" stroke="#221e1f" stroke-width="0.3" >7-DHC production (mg/L)</text>
<text x="693.7" y="1340" font-size="25.9" fill="#221e1f" text-anchor="middle" transform="rotate(-90 693.7 1340)" stroke="#221e1f" stroke-width="0.3" >Squalene production (mg/L)</text>
<rect x="106.9" y="1109.2" width="27.8" height="16" fill="#b6cdb8" stroke="#1f1a17" stroke-width="2.3"/>
<text x="141.3" y="1125.9" font-size="25.2" fill="#221e1f" stroke="#221e1f" stroke-width="0.3" >7-DHC production</text>
<rect x="357" y="1109.2" width="26.8" height="16" fill="#f2bdbd" stroke="#1f1a17" stroke-width="2.3"/>
<text x="390.6" y="1125.4" font-size="25.2" fill="#221e1f" stroke="#221e1f" stroke-width="0.3" >Squalene production</text>
<text x="691.3" y="1086.3" font-size="25" fill="#221e1f">(</text>
<text x="0" y="0" font-size="23.5" fill="#221e1f" transform="translate(704.1 1085) scale(1.25 1)">D</text>
<text x="726.9" y="1086.3" font-size="25" fill="#221e1f">)</text>
<rect x="776.1" y="1520.2" width="27.7" height="15.2" fill="#e3959d" stroke="#1f1a17" stroke-width="2.2"/>
<rect x="803.8" y="1426.6" width="28.9" height="108.8" fill="#7fc4e0" stroke="#1f1a17" stroke-width="2.5"/>
<path d="M818.3,1407.8V1446.1M813.5,1407.8h9.6M813.5,1446.1h9.6" stroke="#1f1a17" stroke-width="2.3" fill="none"/>
<path d="M789.6,1502.8V1379.0H818.3V1403.0" stroke="#1f1a17" stroke-width="2.5" fill="none"/>
<text x="804.2" y="1382.8" font-size="28.5" fill="#221e1f" text-anchor="middle" stroke="#221e1f" stroke-width="0.3" >**</text>
<text x="821.2" y="1559.6" font-size="25.1" fill="#221e1f" text-anchor="end" transform="rotate(-30 821.2 1559.6)" stroke="#221e1f" stroke-width="0.3" >ERG1</text>
<rect x="846.1" y="1520.2" width="27.7" height="15.2" fill="#e3959d" stroke="#1f1a17" stroke-width="2.2"/>
<rect x="873.8" y="1228.6" width="28.9" height="306.8" fill="#7fc4e0" stroke="#1f1a17" stroke-width="2.5"/>
<path d="M888.3,1199.3V1259.9M883.5,1199.3h9.6M883.5,1259.9h9.6" stroke="#1f1a17" stroke-width="2.3" fill="none"/>
<path d="M859.6,1502.8V1169.1H888.3V1191.4" stroke="#1f1a17" stroke-width="2.5" fill="none"/>
<text x="874.2" y="1172.9" font-size="28.5" fill="#221e1f" text-anchor="middle" stroke="#221e1f" stroke-width="0.3" >****</text>
<text x="892" y="1561.1" font-size="25.1" fill="#221e1f" text-anchor="end" transform="rotate(-30 892 1561.1)" stroke="#221e1f" stroke-width="0.3" >ERG2</text>
<rect x="916.1" y="1520.2" width="27.7" height="15.2" fill="#e3959d" stroke="#1f1a17" stroke-width="2.2"/>
<rect x="943.8" y="1464.0" width="28.9" height="71.4" fill="#7fc4e0" stroke="#1f1a17" stroke-width="2.5"/>
<path d="M958.3,1438.1V1489.5M953.5,1438.1h9.6M953.5,1489.5h9.6" stroke="#1f1a17" stroke-width="2.3" fill="none"/>
<path d="M929.6,1502.8V1407.8H958.3V1429.4" stroke="#1f1a17" stroke-width="2.5" fill="none"/>
<text x="944.2" y="1411.6" font-size="28.5" fill="#221e1f" text-anchor="middle" stroke="#221e1f" stroke-width="0.3" >*</text>
<text x="962" y="1561.1" font-size="25.1" fill="#221e1f" text-anchor="end" transform="rotate(-30 962 1561.1)" stroke="#221e1f" stroke-width="0.3" >ERG3</text>
<rect x="986.1" y="1520.2" width="27.7" height="15.2" fill="#e3959d" stroke="#1f1a17" stroke-width="2.2"/>
<rect x="1013.8" y="1372.8" width="28.9" height="162.6" fill="#7fc4e0" stroke="#1f1a17" stroke-width="2.5"/>
<path d="M1028.3,1336.3V1409.8M1023.5,1336.3h9.6M1023.5,1409.8h9.6" stroke="#1f1a17" stroke-width="2.3" fill="none"/>
<path d="M999.6,1502.8V1303.6H1028.3V1327.1" stroke="#1f1a17" stroke-width="2.5" fill="none"/>
<text x="1014.2" y="1307.4" font-size="28.5" fill="#221e1f" text-anchor="middle" stroke="#221e1f" stroke-width="0.3" >**</text>
<text x="1039.2" y="1556.3" font-size="25.1" fill="#221e1f" text-anchor="end" transform="rotate(-30 1039.2 1556.3)" stroke="#221e1f" stroke-width="0.3" >ERG11</text>
<rect x="1056.1" y="1520.2" width="27.7" height="15.2" fill="#e3959d" stroke="#1f1a17" stroke-width="2.2"/>
<rect x="1083.8" y="1436.6" width="28.9" height="98.8" fill="#7fc4e0" stroke="#1f1a17" stroke-width="2.5"/>
<path d="M1098.3,1420.3V1453.5M1093.5,1420.3h9.6M1093.5,1453.5h9.6" stroke="#1f1a17" stroke-width="2.3" fill="none"/>
<path d="M1069.6,1502.8V1392.0H1098.3V1414.0" stroke="#1f1a17" stroke-width="2.5" fill="none"/>
<text x="1084.2" y="1395.8" font-size="28.5" fill="#221e1f" text-anchor="middle" stroke="#221e1f" stroke-width="0.3" >***</text>
<text x="1109.4" y="1559.8" font-size="25.1" fill="#221e1f" text-anchor="end" transform="rotate(-30 1109.4 1559.8)" stroke="#221e1f" stroke-width="0.3" >ERG24</text>
<rect x="1126.1" y="1520.2" width="27.7" height="15.2" fill="#e3959d" stroke="#1f1a17" stroke-width="2.2"/>
<rect x="1153.8" y="1403.0" width="28.9" height="132.4" fill="#7fc4e0" stroke="#1f1a17" stroke-width="2.5"/>
<path d="M1168.3,1386.7V1420.3M1163.5,1386.7h9.6M1163.5,1420.3h9.6" stroke="#1f1a17" stroke-width="2.3" fill="none"/>
<path d="M1139.6,1502.8V1358.4H1168.3V1379.0" stroke="#1f1a17" stroke-width="2.5" fill="none"/>
<text x="1154.2" y="1362.2" font-size="28.5" fill="#221e1f" text-anchor="middle" stroke="#221e1f" stroke-width="0.3" >***</text>
<text x="1179.3" y="1560.8" font-size="25.1" fill="#221e1f" text-anchor="end" transform="rotate(-30 1179.3 1560.8)" stroke="#221e1f" stroke-width="0.3" >ERG28</text>
<rect x="1196.1" y="1520.2" width="27.7" height="15.2" fill="#e3959d" stroke="#1f1a17" stroke-width="2.2"/>
<rect x="1223.8" y="1268.6" width="28.9" height="266.8" fill="#7fc4e0" stroke="#1f1a17" stroke-width="2.5"/>
<path d="M1238.3,1232.7V1306.0M1233.5,1232.7h9.6M1233.5,1306.0h9.6" stroke="#1f1a17" stroke-width="2.3" fill="none"/>
<path d="M1209.6,1502.8V1203.8H1238.3V1225.7" stroke="#1f1a17" stroke-width="2.5" fill="none"/>
<text x="1224.2" y="1207.6" font-size="28.5" fill="#221e1f" text-anchor="middle" stroke="#221e1f" stroke-width="0.3" >***</text>
<text x="1260.6" y="1557.1" font-size="25.1" fill="#221e1f" text-anchor="end" transform="rotate(-30 1260.6 1557.1)" stroke="#221e1f" stroke-width="0.3" >DHCR24</text>
<path d="M761.5,1137.3H769.5V1535.4H1260.8" fill="none" stroke="#1f1a17" stroke-width="2.6"/>
<text x="761.7" y="1541.6" font-size="24.5" fill="#221e1f" text-anchor="end" stroke="#221e1f" stroke-width="0.3" >0</text>
<text x="758.1" y="1462.1" font-size="24.5" fill="#221e1f" text-anchor="end" stroke="#221e1f" stroke-width="0.3" >5</text>
<text x="759.1" y="1382.6" font-size="24.5" fill="#221e1f" text-anchor="end" stroke="#221e1f" stroke-width="0.3" >10</text>
<text x="759.1" y="1303.1" font-size="24.5" fill="#221e1f" text-anchor="end" stroke="#221e1f" stroke-width="0.3" >15</text>
<text x="759.1" y="1223.6" font-size="24.5" fill="#221e1f" text-anchor="end" stroke="#221e1f" stroke-width="0.3" >20</text>
<text x="759.1" y="1144.1" font-size="24.5" fill="#221e1f" text-anchor="end" stroke="#221e1f" stroke-width="0.3" >25</text>
<path d="M803.8,1535.4v8.2M839.0,1535.4v4.6M873.8,1535.4v8.2M909.0,1535.4v4.6M943.8,1535.4v8.2M979.0,1535.4v4.6M1013.8,1535.4v8.2M1049.0,1535.4v4.6M1083.8,1535.4v8.2M1119.0,1535.4v4.6M1153.8,1535.4v8.2M1189.0,1535.4v4.6M1223.8,1535.4v8.2M1259.0,1535.4v4.6M769.5,1535.4v4.6M769.5,1535.4h-8M769.5,1495.7h-3.6M769.5,1455.9h-8M769.5,1416.2h-3.6M769.5,1376.4h-8M769.5,1336.7h-3.6M769.5,1296.9h-8M769.5,1257.2h-3.6M769.5,1217.4h-8M769.5,1177.7h-3.6" stroke="#1f1a17" stroke-width="2.4" fill="none"/>
<text x="729.8" y="1336.2" font-size="26.1" fill="#221e1f" text-anchor="middle" transform="rotate(-90 729.8 1336.2)" stroke="#221e1f" stroke-width="0.3" >Gene transcription level</text>
<rect x="864" y="1103.1" width="39.8" height="18.6" fill="#e3959d" stroke="#1f1a17" stroke-width="2.3"/>
<text x="907.6" y="1120.2" font-size="24.6" fill="#221e1f" stroke="#221e1f" stroke-width="0.3" letter-spacing="0.2">XG20</text>
<rect x="1038.3" y="1102.8" width="39.7" height="18.6" fill="#7fc4e0" stroke="#1f1a17" stroke-width="2.5"/>
<text x="1080.8" y="1120.2" font-size="24.6" fill="#221e1f" stroke="#221e1f" stroke-width="0.3" letter-spacing="0.2">XD10</text>
<text x="6.7" y="50.9" font-size="25" fill="#221e1f">(</text>
<text x="0" y="0" font-size="23.5" fill="#221e1f" transform="translate(20.0 49.6) scale(1.24 1)">A</text>
<text x="41.9" y="50.9" font-size="25" fill="#221e1f">)</text>
<text x="11.3" y="833.4" font-size="25" fill="#221e1f">(</text>
<text x="0" y="0" font-size="23.5" fill="#221e1f" transform="translate(24.5 832.1) scale(1.18 1)">B</text>
<text x="45.9" y="833.4" font-size="25" fill="#221e1f">)</text>
</svg>
</body></html>
